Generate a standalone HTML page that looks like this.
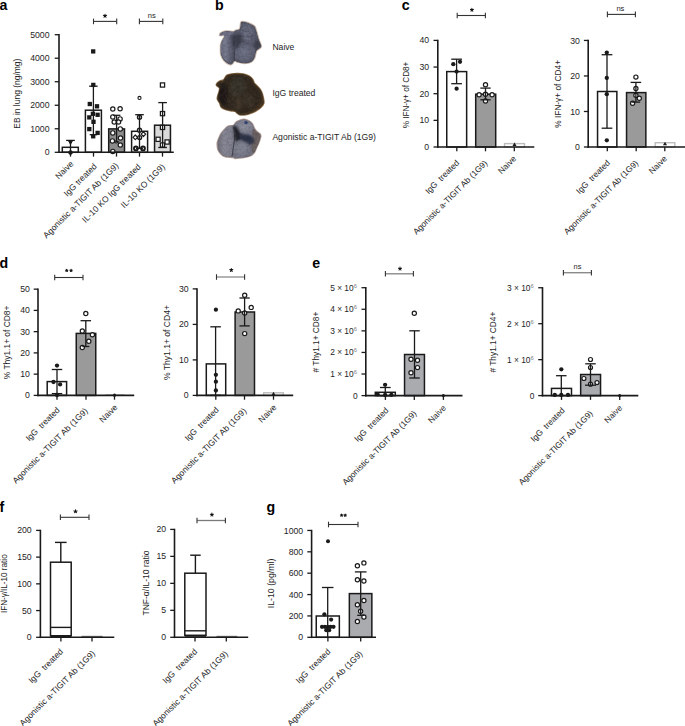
<!DOCTYPE html>
<html><head><meta charset="utf-8"><style>
html,body{margin:0;padding:0;background:#fff;}
svg{display:block;}
text{font-family:"Liberation Sans", sans-serif;}
</style></head><body>
<svg width="685" height="726" viewBox="0 0 685 726">
<rect width="685" height="726" fill="#fff"/>
<text x="-0.60" y="10.30" font-size="14.2" text-anchor="start" font-weight="bold" fill="#000" xml:space="preserve">a</text>
<text x="49.50" y="155.39" font-size="8.7" text-anchor="end" font-weight="normal" fill="#1e1e1e" xml:space="preserve">0</text>
<text x="49.50" y="131.87" font-size="8.7" text-anchor="end" font-weight="normal" fill="#1e1e1e" xml:space="preserve">1000</text>
<text x="49.50" y="108.35" font-size="8.7" text-anchor="end" font-weight="normal" fill="#1e1e1e" xml:space="preserve">2000</text>
<text x="49.50" y="84.83" font-size="8.7" text-anchor="end" font-weight="normal" fill="#1e1e1e" xml:space="preserve">3000</text>
<text x="49.50" y="61.31" font-size="8.7" text-anchor="end" font-weight="normal" fill="#1e1e1e" xml:space="preserve">4000</text>
<text x="49.50" y="37.79" font-size="8.7" text-anchor="end" font-weight="normal" fill="#1e1e1e" xml:space="preserve">5000</text>
<rect x="62.30" y="147.30" width="16.00" height="5.00" fill="#fff" stroke="#1a1a1a" stroke-width="1.5"/>
<rect x="85.40" y="110.20" width="16.00" height="42.10" fill="#fff" stroke="#1a1a1a" stroke-width="1.5"/>
<rect x="108.70" y="128.90" width="15.80" height="23.40" fill="#8c8c8c" stroke="#1a1a1a" stroke-width="1.5"/>
<rect x="131.60" y="131.30" width="16.00" height="21.00" fill="#fff" stroke="#1a1a1a" stroke-width="1.5"/>
<rect x="154.55" y="125.20" width="15.90" height="27.10" fill="#dadada" stroke="#1a1a1a" stroke-width="1.5"/>
<path d="M68.7,141.2 L72.3,141.2 L70.5,144.2 Z" fill="#1a1a1a" stroke="#1a1a1a" stroke-width="1.0" stroke-linejoin="round"/>
<path d="M70.50,149.40 L73.50,152.40 L70.50,155.40 L67.50,152.40 Z" fill="#1a1a1a"/>
<rect x="91.05" y="49.25" width="4.3" height="4.3" fill="#1a1a1a"/>
<rect x="91.15" y="82.75" width="4.3" height="4.3" fill="#1a1a1a"/>
<rect x="87.65" y="101.85" width="4.3" height="4.3" fill="#1a1a1a"/>
<rect x="94.85" y="104.15" width="4.3" height="4.3" fill="#1a1a1a"/>
<rect x="90.75" y="111.65" width="4.3" height="4.3" fill="#1a1a1a"/>
<rect x="95.45" y="112.65" width="4.3" height="4.3" fill="#1a1a1a"/>
<rect x="87.15" y="115.25" width="4.3" height="4.3" fill="#1a1a1a"/>
<rect x="91.35" y="119.65" width="4.3" height="4.3" fill="#1a1a1a"/>
<rect x="87.15" y="126.95" width="4.3" height="4.3" fill="#1a1a1a"/>
<rect x="95.45" y="130.75" width="4.3" height="4.3" fill="#1a1a1a"/>
<rect x="91.05" y="134.15" width="4.3" height="4.3" fill="#1a1a1a"/>
<circle cx="112.80" cy="109.00" r="2.15" fill="#fff" stroke="#1a1a1a" stroke-width="1.2"/>
<circle cx="120.10" cy="108.70" r="2.15" fill="#fff" stroke="#1a1a1a" stroke-width="1.2"/>
<circle cx="112.80" cy="116.90" r="2.15" fill="#fff" stroke="#1a1a1a" stroke-width="1.2"/>
<circle cx="120.10" cy="118.90" r="2.15" fill="#fff" stroke="#1a1a1a" stroke-width="1.2"/>
<circle cx="114.20" cy="122.00" r="2.15" fill="#fff" stroke="#1a1a1a" stroke-width="1.2"/>
<circle cx="118.50" cy="122.00" r="2.15" fill="#fff" stroke="#1a1a1a" stroke-width="1.2"/>
<circle cx="120.30" cy="128.90" r="2.15" fill="#fff" stroke="#1a1a1a" stroke-width="1.2"/>
<circle cx="112.80" cy="132.90" r="2.15" fill="#fff" stroke="#1a1a1a" stroke-width="1.2"/>
<circle cx="120.50" cy="138.00" r="2.15" fill="#fff" stroke="#1a1a1a" stroke-width="1.2"/>
<circle cx="112.40" cy="140.90" r="2.15" fill="#fff" stroke="#1a1a1a" stroke-width="1.2"/>
<circle cx="120.30" cy="145.00" r="2.15" fill="#fff" stroke="#1a1a1a" stroke-width="1.2"/>
<circle cx="112.80" cy="151.40" r="2.15" fill="#fff" stroke="#1a1a1a" stroke-width="1.2"/>
<circle cx="116.20" cy="141.90" r="1.3" fill="#fff" stroke="#1a1a1a" stroke-width="1.0"/>
<circle cx="139.50" cy="97.90" r="1.55" fill="#fff" stroke="#1a1a1a" stroke-width="1.1"/>
<circle cx="139.50" cy="117.30" r="2.0" fill="#fff" stroke="#1a1a1a" stroke-width="1.4"/>
<circle cx="139.50" cy="130.20" r="2.0" fill="#fff" stroke="#1a1a1a" stroke-width="1.4"/>
<circle cx="139.60" cy="137.60" r="2.0" fill="#fff" stroke="#1a1a1a" stroke-width="1.4"/>
<path d="M135.30,135.00 L137.60,137.30 L135.30,139.60 L133.00,137.30 Z" fill="#fff" stroke="#1a1a1a" stroke-width="1.2" stroke-linejoin="round"/>
<path d="M143.40,131.90 L145.70,134.20 L143.40,136.50 L141.10,134.20 Z" fill="#fff" stroke="#1a1a1a" stroke-width="1.2" stroke-linejoin="round"/>
<circle cx="135.90" cy="148.40" r="1.9" fill="#fff" stroke="#1a1a1a" stroke-width="1.9"/>
<circle cx="143.00" cy="148.40" r="1.9" fill="#fff" stroke="#1a1a1a" stroke-width="1.9"/>
<rect x="160.40" y="82.90" width="4.2" height="4.2" fill="#fff" stroke="#1a1a1a" stroke-width="1.25"/>
<rect x="160.40" y="111.50" width="4.2" height="4.2" fill="#fff" stroke="#1a1a1a" stroke-width="1.25"/>
<rect x="160.40" y="125.30" width="4.2" height="4.2" fill="#fff" stroke="#1a1a1a" stroke-width="1.25"/>
<rect x="156.00" y="137.20" width="4.2" height="4.2" fill="#fff" stroke="#1a1a1a" stroke-width="1.25"/>
<rect x="165.00" y="139.90" width="4.2" height="4.2" fill="#fff" stroke="#1a1a1a" stroke-width="1.25"/>
<rect x="160.40" y="142.90" width="4.2" height="4.2" fill="#fff" stroke="#1a1a1a" stroke-width="1.25"/>
<line x1="93.50" y1="21.40" x2="116.70" y2="21.40" stroke="#333" stroke-width="1.1"/>
<line x1="93.50" y1="18.60" x2="93.50" y2="24.20" stroke="#333" stroke-width="1.1"/>
<line x1="116.70" y1="18.60" x2="116.70" y2="24.20" stroke="#333" stroke-width="1.1"/>
<path d="M105.00,15.90 L105.00,14.20 M105.00,15.90 L106.62,15.37 M105.00,15.90 L106.00,17.28 M105.00,15.90 L104.00,17.28 M105.00,15.90 L103.38,15.37 " stroke="#111" stroke-width="1.05" stroke-linecap="round" fill="none"/>
<circle cx="105.00" cy="15.90" r="0.85" fill="#111"/>
<line x1="139.40" y1="21.40" x2="162.80" y2="21.40" stroke="#333" stroke-width="1.1"/>
<line x1="139.40" y1="18.60" x2="139.40" y2="24.20" stroke="#333" stroke-width="1.1"/>
<line x1="162.80" y1="18.60" x2="162.80" y2="24.20" stroke="#333" stroke-width="1.1"/>
<text x="151.80" y="17.90" font-size="7.6" text-anchor="middle" font-weight="normal" fill="#1e1e1e" xml:space="preserve">ns</text>
<text x="19.90" y="93.70" font-size="9.0" text-anchor="middle" font-weight="normal" fill="#1e1e1e" transform="rotate(-90 19.90 93.70)" textLength="70.0" lengthAdjust="spacingAndGlyphs" xml:space="preserve">EB in lung (ng/mg)</text>
<text x="74.00" y="164.30" font-size="8.5" text-anchor="end" font-weight="normal" fill="#1e1e1e" transform="rotate(-45 74.00 164.30)" xml:space="preserve">Naive</text>
<text x="97.40" y="166.80" font-size="8.5" text-anchor="end" font-weight="normal" fill="#1e1e1e" transform="rotate(-45 97.40 166.80)" xml:space="preserve">IgG treated</text>
<text x="119.00" y="166.30" font-size="8.5" text-anchor="end" font-weight="normal" fill="#1e1e1e" transform="rotate(-45 119.00 166.30)" xml:space="preserve">Agonistic a-TIGIT Ab (1G9)</text>
<text x="141.40" y="167.40" font-size="8.5" text-anchor="end" font-weight="normal" fill="#1e1e1e" transform="rotate(-45 141.40 167.40)" xml:space="preserve">IL-10 KO IgG treated</text>
<text x="165.40" y="167.40" font-size="8.5" text-anchor="end" font-weight="normal" fill="#1e1e1e" transform="rotate(-45 165.40 167.40)" xml:space="preserve">IL-10 KO (1G9)</text>
<text x="215.00" y="10.30" font-size="14.2" text-anchor="start" font-weight="bold" fill="#000" xml:space="preserve">b</text>
<text x="272.40" y="49.60" font-size="8.6" text-anchor="start" font-weight="normal" fill="#1e1e1e" xml:space="preserve">Naive</text>
<text x="272.40" y="96.10" font-size="8.6" text-anchor="start" font-weight="normal" fill="#1e1e1e" xml:space="preserve">IgG treated</text>
<text x="272.40" y="140.00" font-size="8.6" text-anchor="start" font-weight="normal" fill="#1e1e1e" xml:space="preserve">Agonistic a-TIGIT Ab (1G9)</text>
<defs>
<clipPath id="c1"><path d="M219.80,34.60 C219.95,34.17 219.67,33.48 220.70,32.90 C221.73,32.32 223.88,31.32 226.00,31.10 C228.12,30.88 231.80,31.73 233.40,31.60 C235.00,31.47 234.58,30.73 235.60,30.30 C236.62,29.87 238.72,29.72 239.50,29.00 C240.28,28.28 240.08,27.10 240.30,26.00 C240.52,24.90 240.35,23.15 240.80,22.40 C241.25,21.65 241.78,21.43 243.00,21.50 C244.22,21.57 246.22,22.07 248.10,22.80 C249.98,23.53 252.98,24.80 254.30,25.90 C255.62,27.00 255.50,28.08 256.00,29.40 C256.50,30.72 256.85,32.20 257.30,33.80 C257.75,35.40 258.12,37.25 258.70,39.00 C259.28,40.75 260.37,43.05 260.80,44.30 C261.23,45.55 261.38,45.88 261.30,46.50 C261.22,47.12 261.10,47.25 260.30,48.00 C259.50,48.75 257.42,49.42 256.50,51.00 C255.58,52.58 255.63,55.68 254.80,57.50 C253.97,59.32 253.27,60.92 251.50,61.90 C249.73,62.88 246.63,63.40 244.20,63.40 C241.77,63.40 238.55,62.27 236.90,61.90 C235.25,61.53 235.03,60.90 234.30,61.20 C233.57,61.50 233.28,63.15 232.50,63.70 C231.72,64.25 231.05,65.05 229.60,64.50 C228.15,63.95 225.27,62.05 223.80,60.40 C222.33,58.75 221.35,56.78 220.80,54.60 C220.25,52.42 220.52,49.02 220.50,47.30 C220.48,45.58 220.45,45.38 220.70,44.30 C220.95,43.22 221.42,42.05 222.00,40.80 C222.58,39.55 223.90,37.72 224.20,36.80 C224.50,35.88 224.53,35.52 223.80,35.30 C223.07,35.08 220.47,35.62 219.80,35.50 C219.13,35.38 219.65,35.03 219.80,34.60 Z"/></clipPath>
<clipPath id="c2"><path d="M216.30,84.90 C216.23,84.25 216.78,83.35 217.40,82.70 C218.02,82.05 218.98,81.47 220.00,81.00 C221.02,80.53 222.55,80.63 223.50,79.90 C224.45,79.17 225.03,77.42 225.70,76.60 C226.37,75.78 226.55,75.45 227.50,75.00 C228.45,74.55 229.65,74.13 231.40,73.90 C233.15,73.67 235.82,73.55 238.00,73.60 C240.18,73.65 242.55,73.72 244.50,74.20 C246.45,74.68 248.30,75.58 249.70,76.50 C251.10,77.42 252.15,78.63 252.90,79.70 C253.65,80.77 253.45,81.82 254.20,82.90 C254.95,83.98 256.32,85.00 257.40,86.20 C258.48,87.40 259.83,88.70 260.70,90.10 C261.57,91.50 262.07,92.77 262.60,94.60 C263.13,96.43 263.73,99.58 263.90,101.10 C264.07,102.62 264.03,102.73 263.60,103.70 C263.17,104.67 262.33,105.83 261.30,106.90 C260.27,107.97 258.92,109.13 257.40,110.10 C255.88,111.07 254.13,111.93 252.20,112.70 C250.27,113.47 247.80,114.33 245.80,114.70 C243.80,115.07 241.58,115.12 240.20,114.90 C238.82,114.68 238.38,113.98 237.50,113.40 C236.62,112.82 236.07,111.83 234.90,111.40 C233.73,110.97 232.10,111.12 230.50,110.80 C228.90,110.48 226.83,110.08 225.30,109.50 C223.77,108.92 222.25,108.40 221.30,107.30 C220.35,106.20 220.25,104.22 219.60,102.90 C218.95,101.58 217.73,100.50 217.40,99.40 C217.07,98.30 217.38,97.40 217.60,96.30 C217.82,95.20 218.37,94.12 218.70,92.80 C219.03,91.48 219.75,89.43 219.60,88.40 C219.45,87.37 218.35,87.18 217.80,86.60 C217.25,86.02 216.37,85.55 216.30,84.90 Z"/></clipPath>
<clipPath id="c3"><path d="M228.10,126.20 C229.48,125.62 232.08,125.95 233.40,125.30 C234.72,124.65 234.98,123.10 236.00,122.30 C237.02,121.50 238.43,120.98 239.50,120.50 C240.57,120.02 241.40,119.58 242.40,119.40 C243.40,119.22 244.32,119.12 245.50,119.40 C246.68,119.68 248.33,120.37 249.50,121.10 C250.67,121.83 251.70,122.63 252.50,123.80 C253.30,124.97 253.57,126.80 254.30,128.10 C255.03,129.40 255.95,130.65 256.90,131.60 C257.85,132.55 259.35,133.07 260.00,133.80 C260.65,134.53 260.80,135.05 260.80,136.00 C260.80,136.95 260.35,138.33 260.00,139.50 C259.65,140.67 259.28,141.58 258.70,143.00 C258.12,144.42 257.22,146.42 256.50,148.00 C255.78,149.58 255.23,151.27 254.40,152.50 C253.57,153.73 253.20,154.55 251.50,155.40 C249.80,156.25 246.88,157.10 244.20,157.60 C241.52,158.10 237.23,158.40 235.40,158.40 C233.57,158.40 235.02,157.92 233.20,157.60 C231.38,157.28 226.57,157.10 224.50,156.50 C222.43,155.90 221.90,155.15 220.80,154.00 C219.70,152.85 218.50,151.30 217.90,149.60 C217.30,147.90 217.25,145.15 217.20,143.80 C217.15,142.45 217.23,142.68 217.60,141.50 C217.97,140.32 218.73,138.15 219.40,136.70 C220.07,135.25 220.65,134.12 221.60,132.80 C222.55,131.48 224.02,129.90 225.10,128.80 C226.18,127.70 226.72,126.78 228.10,126.20 Z"/></clipPath>
<filter id="tex" x="0" y="0" width="100%" height="100%"><feTurbulence type="fractalNoise" baseFrequency="0.45" numOctaves="2" seed="7"/><feColorMatrix type="matrix" values="0 0 0 0 0  0 0 0 0 0  0 0 0 0 0  0 0 0 -1.3 0.8"/></filter>
<filter id="texl" x="0" y="0" width="100%" height="100%"><feTurbulence type="fractalNoise" baseFrequency="0.3" numOctaves="2" seed="11"/><feColorMatrix type="matrix" values="0 0 0 0 1  0 0 0 0 1  0 0 0 0 1  0 0 0 -1.5 0.85"/></filter>
<filter id="bl" x="-30%" y="-30%" width="160%" height="160%"><feGaussianBlur stdDeviation="0.9"/></filter>
<filter id="bl2" x="-30%" y="-30%" width="160%" height="160%"><feGaussianBlur stdDeviation="0.55"/></filter>
<filter id="blo" x="-10%" y="-10%" width="120%" height="120%"><feGaussianBlur stdDeviation="0.6"/></filter>
<linearGradient id="g1l" x1="0" y1="0" x2="1" y2="0"><stop offset="0" stop-color="#686d8a"/><stop offset="0.45" stop-color="#737896"/><stop offset="1" stop-color="#484b63"/></linearGradient>
<radialGradient id="g1br" cx="0.45" cy="0.45" r="0.6"><stop offset="0" stop-color="#6c7090"/><stop offset="0.8" stop-color="#5c607c"/><stop offset="1" stop-color="#4a4d66"/></radialGradient>
<radialGradient id="g1tr" cx="0.4" cy="0.5" r="0.65"><stop offset="0" stop-color="#6a6f8c"/><stop offset="1" stop-color="#51556f"/></radialGradient>
<radialGradient id="g2" cx="0.45" cy="0.5" r="0.6"><stop offset="0" stop-color="#362d24"/><stop offset="0.75" stop-color="#30271e"/><stop offset="1" stop-color="#4e3a22"/></radialGradient>
<linearGradient id="g3l" x1="0" y1="0" x2="1" y2="0"><stop offset="0" stop-color="#6e6a7c"/><stop offset="0.35" stop-color="#85849a"/><stop offset="1" stop-color="#7a7a92"/></linearGradient>
<radialGradient id="g3tr" cx="0.5" cy="0.45" r="0.6"><stop offset="0" stop-color="#8d8ea6"/><stop offset="1" stop-color="#72748e"/></radialGradient>
<radialGradient id="g3br" cx="0.45" cy="0.5" r="0.6"><stop offset="0" stop-color="#85869e"/><stop offset="1" stop-color="#6c6d86"/></radialGradient>
<filter id="desat" x="0" y="0" width="100%" height="100%"><feColorMatrix type="saturate" values="0.62"/></filter>
</defs>
<path d="M219.80,34.60 C219.95,34.17 219.67,33.48 220.70,32.90 C221.73,32.32 223.88,31.32 226.00,31.10 C228.12,30.88 231.80,31.73 233.40,31.60 C235.00,31.47 234.58,30.73 235.60,30.30 C236.62,29.87 238.72,29.72 239.50,29.00 C240.28,28.28 240.08,27.10 240.30,26.00 C240.52,24.90 240.35,23.15 240.80,22.40 C241.25,21.65 241.78,21.43 243.00,21.50 C244.22,21.57 246.22,22.07 248.10,22.80 C249.98,23.53 252.98,24.80 254.30,25.90 C255.62,27.00 255.50,28.08 256.00,29.40 C256.50,30.72 256.85,32.20 257.30,33.80 C257.75,35.40 258.12,37.25 258.70,39.00 C259.28,40.75 260.37,43.05 260.80,44.30 C261.23,45.55 261.38,45.88 261.30,46.50 C261.22,47.12 261.10,47.25 260.30,48.00 C259.50,48.75 257.42,49.42 256.50,51.00 C255.58,52.58 255.63,55.68 254.80,57.50 C253.97,59.32 253.27,60.92 251.50,61.90 C249.73,62.88 246.63,63.40 244.20,63.40 C241.77,63.40 238.55,62.27 236.90,61.90 C235.25,61.53 235.03,60.90 234.30,61.20 C233.57,61.50 233.28,63.15 232.50,63.70 C231.72,64.25 231.05,65.05 229.60,64.50 C228.15,63.95 225.27,62.05 223.80,60.40 C222.33,58.75 221.35,56.78 220.80,54.60 C220.25,52.42 220.52,49.02 220.50,47.30 C220.48,45.58 220.45,45.38 220.70,44.30 C220.95,43.22 221.42,42.05 222.00,40.80 C222.58,39.55 223.90,37.72 224.20,36.80 C224.50,35.88 224.53,35.52 223.80,35.30 C223.07,35.08 220.47,35.62 219.80,35.50 C219.13,35.38 219.65,35.03 219.80,34.60 Z" fill="none" stroke="#b39a88" stroke-width="1.5" opacity="0.75" filter="url(#blo)"/>
<g filter="url(#desat)"><g clip-path="url(#c1)">
<path d="M219.80,34.60 C219.95,34.17 219.67,33.48 220.70,32.90 C221.73,32.32 223.88,31.32 226.00,31.10 C228.12,30.88 231.80,31.73 233.40,31.60 C235.00,31.47 234.58,30.73 235.60,30.30 C236.62,29.87 238.72,29.72 239.50,29.00 C240.28,28.28 240.08,27.10 240.30,26.00 C240.52,24.90 240.35,23.15 240.80,22.40 C241.25,21.65 241.78,21.43 243.00,21.50 C244.22,21.57 246.22,22.07 248.10,22.80 C249.98,23.53 252.98,24.80 254.30,25.90 C255.62,27.00 255.50,28.08 256.00,29.40 C256.50,30.72 256.85,32.20 257.30,33.80 C257.75,35.40 258.12,37.25 258.70,39.00 C259.28,40.75 260.37,43.05 260.80,44.30 C261.23,45.55 261.38,45.88 261.30,46.50 C261.22,47.12 261.10,47.25 260.30,48.00 C259.50,48.75 257.42,49.42 256.50,51.00 C255.58,52.58 255.63,55.68 254.80,57.50 C253.97,59.32 253.27,60.92 251.50,61.90 C249.73,62.88 246.63,63.40 244.20,63.40 C241.77,63.40 238.55,62.27 236.90,61.90 C235.25,61.53 235.03,60.90 234.30,61.20 C233.57,61.50 233.28,63.15 232.50,63.70 C231.72,64.25 231.05,65.05 229.60,64.50 C228.15,63.95 225.27,62.05 223.80,60.40 C222.33,58.75 221.35,56.78 220.80,54.60 C220.25,52.42 220.52,49.02 220.50,47.30 C220.48,45.58 220.45,45.38 220.70,44.30 C220.95,43.22 221.42,42.05 222.00,40.80 C222.58,39.55 223.90,37.72 224.20,36.80 C224.50,35.88 224.53,35.52 223.80,35.30 C223.07,35.08 220.47,35.62 219.80,35.50 C219.13,35.38 219.65,35.03 219.80,34.60 Z" fill="#53576f"/>
<g filter="url(#bl2)">
<path d="M240.50,32.60 C240.27,30.05 240.43,26.18 241.30,24.60 C242.17,23.02 244.00,22.87 245.70,23.10 C247.40,23.33 249.93,24.42 251.50,26.00 C253.07,27.58 254.25,30.28 255.10,32.60 C255.95,34.92 256.72,38.08 256.60,39.90 C256.48,41.72 255.87,43.02 254.40,43.50 C252.93,43.98 249.75,43.40 247.80,42.80 C245.85,42.20 243.92,41.60 242.70,39.90 C241.48,38.20 240.73,35.15 240.50,32.60 Z" fill="url(#g1tr)"/>
<path d="M236.20,47.20 C237.17,45.50 238.57,44.92 240.50,44.30 C242.43,43.68 245.48,43.27 247.80,43.50 C250.12,43.73 253.05,44.48 254.40,45.70 C255.75,46.92 256.02,48.85 255.90,50.80 C255.78,52.75 254.92,55.57 253.70,57.40 C252.48,59.23 250.67,60.95 248.60,61.80 C246.53,62.65 243.37,62.75 241.30,62.50 C239.23,62.25 237.30,61.63 236.20,60.30 C235.10,58.97 234.70,56.68 234.70,54.50 C234.70,52.32 235.23,48.90 236.20,47.20 Z" fill="url(#g1br)"/>
<path d="M219.50,36.00 C219.62,35.40 220.12,39.87 221.20,39.90 C222.28,39.93 224.42,36.75 226.00,36.20 C227.58,35.65 229.62,35.62 230.70,36.60 C231.78,37.58 232.08,39.73 232.50,42.10 C232.92,44.47 232.95,48.00 233.20,50.80 C233.45,53.60 234.23,56.95 234.00,58.90 C233.77,60.85 232.90,62.02 231.80,62.50 C230.70,62.98 228.87,62.65 227.40,61.80 C225.93,60.95 224.15,59.23 223.00,57.40 C221.85,55.57 220.92,53.12 220.50,50.80 C220.08,48.48 220.67,45.97 220.50,43.50 C220.33,41.03 219.38,36.60 219.50,36.00 Z" fill="url(#g1l)"/>
<path d="M219.80,34.60 C220.38,33.97 222.30,32.50 224.00,32.00 C225.70,31.50 228.33,31.57 230.00,31.60 C231.67,31.63 234.00,31.55 234.00,32.20 C234.00,32.85 231.67,34.90 230.00,35.50 C228.33,36.10 225.58,35.75 224.00,35.80 C222.42,35.85 221.20,36.00 220.50,35.80 C219.80,35.60 219.22,35.23 219.80,34.60 Z" fill="#6d7190"/>
</g>
<g filter="url(#bl)">
<path d="M231.80,37.00 C232.58,35.78 235.32,34.47 236.90,34.10 C238.48,33.73 240.33,33.83 241.30,34.80 C242.27,35.77 242.95,38.32 242.70,39.90 C242.45,41.48 240.88,42.83 239.80,44.30 C238.72,45.77 237.30,48.47 236.20,48.70 C235.10,48.93 233.87,46.92 233.20,45.70 C232.53,44.48 232.43,42.85 232.20,41.40 C231.97,39.95 231.02,38.22 231.80,37.00 Z" fill="#3b3d52"/>
<path d="M255.90,39.90 C256.68,39.30 258.72,41.13 259.50,42.10 C260.28,43.07 260.83,44.60 260.60,45.70 C260.37,46.80 258.88,48.08 258.10,48.70 C257.32,49.32 256.45,49.90 255.90,49.40 C255.35,48.90 254.80,47.28 254.80,45.70 C254.80,44.12 255.12,40.50 255.90,39.90 Z" fill="#3a3c50"/>
</g>
<path d="M233.5,42 Q235,52 234.6,61.5" stroke="#3c3e54" stroke-width="0.9" fill="none" opacity="0.8"/>
<path d="M236,47.5 Q245,42.5 255,46" stroke="#4a4d66" stroke-width="0.7" fill="none" opacity="0.7"/>
<path d="M243,27 L247,36 M248,25 L252,33 M245,38 L251,40" stroke="#8a8fab" stroke-width="0.6" fill="none" opacity="0.5"/>
<path d="M242,30 Q246,33 249,31 M246,36 Q250,38 254,35 M238,38 L244,36" stroke="#3e4056" stroke-width="0.8" fill="none" opacity="0.7"/>
<rect x="215" y="18" width="50" height="50" filter="url(#tex)" opacity="0.22"/>
<rect x="215" y="18" width="50" height="50" filter="url(#texl)" opacity="0.10"/>
</g></g>
<path d="M216.30,84.90 C216.23,84.25 216.78,83.35 217.40,82.70 C218.02,82.05 218.98,81.47 220.00,81.00 C221.02,80.53 222.55,80.63 223.50,79.90 C224.45,79.17 225.03,77.42 225.70,76.60 C226.37,75.78 226.55,75.45 227.50,75.00 C228.45,74.55 229.65,74.13 231.40,73.90 C233.15,73.67 235.82,73.55 238.00,73.60 C240.18,73.65 242.55,73.72 244.50,74.20 C246.45,74.68 248.30,75.58 249.70,76.50 C251.10,77.42 252.15,78.63 252.90,79.70 C253.65,80.77 253.45,81.82 254.20,82.90 C254.95,83.98 256.32,85.00 257.40,86.20 C258.48,87.40 259.83,88.70 260.70,90.10 C261.57,91.50 262.07,92.77 262.60,94.60 C263.13,96.43 263.73,99.58 263.90,101.10 C264.07,102.62 264.03,102.73 263.60,103.70 C263.17,104.67 262.33,105.83 261.30,106.90 C260.27,107.97 258.92,109.13 257.40,110.10 C255.88,111.07 254.13,111.93 252.20,112.70 C250.27,113.47 247.80,114.33 245.80,114.70 C243.80,115.07 241.58,115.12 240.20,114.90 C238.82,114.68 238.38,113.98 237.50,113.40 C236.62,112.82 236.07,111.83 234.90,111.40 C233.73,110.97 232.10,111.12 230.50,110.80 C228.90,110.48 226.83,110.08 225.30,109.50 C223.77,108.92 222.25,108.40 221.30,107.30 C220.35,106.20 220.25,104.22 219.60,102.90 C218.95,101.58 217.73,100.50 217.40,99.40 C217.07,98.30 217.38,97.40 217.60,96.30 C217.82,95.20 218.37,94.12 218.70,92.80 C219.03,91.48 219.75,89.43 219.60,88.40 C219.45,87.37 218.35,87.18 217.80,86.60 C217.25,86.02 216.37,85.55 216.30,84.90 Z" fill="none" stroke="#7e5a32" stroke-width="1.5" opacity="0.85" filter="url(#blo)"/>
<path d="M259,92 Q264,99 262.5,106" stroke="#a06a28" stroke-width="1.6" fill="none" opacity="0.7" filter="url(#blo)"/>
<g clip-path="url(#c2)">
<path d="M216.30,84.90 C216.23,84.25 216.78,83.35 217.40,82.70 C218.02,82.05 218.98,81.47 220.00,81.00 C221.02,80.53 222.55,80.63 223.50,79.90 C224.45,79.17 225.03,77.42 225.70,76.60 C226.37,75.78 226.55,75.45 227.50,75.00 C228.45,74.55 229.65,74.13 231.40,73.90 C233.15,73.67 235.82,73.55 238.00,73.60 C240.18,73.65 242.55,73.72 244.50,74.20 C246.45,74.68 248.30,75.58 249.70,76.50 C251.10,77.42 252.15,78.63 252.90,79.70 C253.65,80.77 253.45,81.82 254.20,82.90 C254.95,83.98 256.32,85.00 257.40,86.20 C258.48,87.40 259.83,88.70 260.70,90.10 C261.57,91.50 262.07,92.77 262.60,94.60 C263.13,96.43 263.73,99.58 263.90,101.10 C264.07,102.62 264.03,102.73 263.60,103.70 C263.17,104.67 262.33,105.83 261.30,106.90 C260.27,107.97 258.92,109.13 257.40,110.10 C255.88,111.07 254.13,111.93 252.20,112.70 C250.27,113.47 247.80,114.33 245.80,114.70 C243.80,115.07 241.58,115.12 240.20,114.90 C238.82,114.68 238.38,113.98 237.50,113.40 C236.62,112.82 236.07,111.83 234.90,111.40 C233.73,110.97 232.10,111.12 230.50,110.80 C228.90,110.48 226.83,110.08 225.30,109.50 C223.77,108.92 222.25,108.40 221.30,107.30 C220.35,106.20 220.25,104.22 219.60,102.90 C218.95,101.58 217.73,100.50 217.40,99.40 C217.07,98.30 217.38,97.40 217.60,96.30 C217.82,95.20 218.37,94.12 218.70,92.80 C219.03,91.48 219.75,89.43 219.60,88.40 C219.45,87.37 218.35,87.18 217.80,86.60 C217.25,86.02 216.37,85.55 216.30,84.90 Z" fill="url(#g2)"/>
<g filter="url(#bl)">
<path d="M216.30,84.90 C216.23,84.25 216.78,83.35 217.40,82.70 C218.02,82.05 218.98,81.47 220.00,81.00 C221.02,80.53 222.55,80.63 223.50,79.90 C224.45,79.17 225.03,77.42 225.70,76.60 C226.37,75.78 226.55,75.45 227.50,75.00 C228.45,74.55 229.65,74.13 231.40,73.90 C233.15,73.67 235.82,73.55 238.00,73.60 C240.18,73.65 242.55,73.72 244.50,74.20 C246.45,74.68 248.30,75.58 249.70,76.50 C251.10,77.42 252.15,78.63 252.90,79.70 C253.65,80.77 253.45,81.82 254.20,82.90 C254.95,83.98 256.32,85.00 257.40,86.20 C258.48,87.40 259.83,88.70 260.70,90.10 C261.57,91.50 262.07,92.77 262.60,94.60 C263.13,96.43 263.73,99.58 263.90,101.10 C264.07,102.62 264.03,102.73 263.60,103.70 C263.17,104.67 262.33,105.83 261.30,106.90 C260.27,107.97 258.92,109.13 257.40,110.10 C255.88,111.07 254.13,111.93 252.20,112.70 C250.27,113.47 247.80,114.33 245.80,114.70 C243.80,115.07 241.58,115.12 240.20,114.90 C238.82,114.68 238.38,113.98 237.50,113.40 C236.62,112.82 236.07,111.83 234.90,111.40 C233.73,110.97 232.10,111.12 230.50,110.80 C228.90,110.48 226.83,110.08 225.30,109.50 C223.77,108.92 222.25,108.40 221.30,107.30 C220.35,106.20 220.25,104.22 219.60,102.90 C218.95,101.58 217.73,100.50 217.40,99.40 C217.07,98.30 217.38,97.40 217.60,96.30 C217.82,95.20 218.37,94.12 218.70,92.80 C219.03,91.48 219.75,89.43 219.60,88.40 C219.45,87.37 218.35,87.18 217.80,86.60 C217.25,86.02 216.37,85.55 216.30,84.90 Z" fill="none" stroke="#4b3a24" stroke-width="2.2" opacity="0.9"/>
<path d="M231.00,80.00 C232.17,77.50 235.67,76.67 238.00,77.00 C240.33,77.33 244.00,79.50 245.00,82.00 C246.00,84.50 245.17,89.50 244.00,92.00 C242.83,94.50 240.17,97.00 238.00,97.00 C235.83,97.00 232.17,94.83 231.00,92.00 C229.83,89.17 229.83,82.50 231.00,80.00 Z" fill="#3a342c" opacity="0.8"/>
<path d="M246.00,94.00 C247.83,93.17 252.67,95.00 254.00,97.00 C255.33,99.00 255.17,104.17 254.00,106.00 C252.83,107.83 248.83,108.67 247.00,108.00 C245.17,107.33 243.17,104.33 243.00,102.00 C242.83,99.67 244.17,94.83 246.00,94.00 Z" fill="#3a3328" opacity="0.7"/>
<path d="M219.00,88.00 C220.17,85.50 224.50,84.33 226.00,86.00 C227.50,87.67 228.33,94.67 228.00,98.00 C227.67,101.33 225.50,105.50 224.00,106.00 C222.50,106.50 219.83,104.00 219.00,101.00 C218.17,98.00 217.83,90.50 219.00,88.00 Z" fill="#1f1b16" opacity="0.9"/>
<path d="M236.00,100.00 C236.67,98.17 240.00,97.67 241.00,99.00 C242.00,100.33 242.67,106.17 242.00,108.00 C241.33,109.83 238.00,111.33 237.00,110.00 C236.00,108.67 235.33,101.83 236.00,100.00 Z" fill="#4a3d2c" opacity="0.6"/>
</g>
<path d="M230,83 L236,90 M243,79 L247,88 M235,95 L240,104 M249,98 L251,107 M226,95 L229,103 M238,84 L244,84 M232,100 L235,92" stroke="#5e4c36" stroke-width="0.8" fill="none" opacity="0.35"/>
<rect x="213" y="70" width="55" height="50" filter="url(#tex)" opacity="0.25"/>
<rect x="213" y="70" width="55" height="50" filter="url(#texl)" opacity="0.07"/>
</g>
<path d="M228.10,126.20 C229.48,125.62 232.08,125.95 233.40,125.30 C234.72,124.65 234.98,123.10 236.00,122.30 C237.02,121.50 238.43,120.98 239.50,120.50 C240.57,120.02 241.40,119.58 242.40,119.40 C243.40,119.22 244.32,119.12 245.50,119.40 C246.68,119.68 248.33,120.37 249.50,121.10 C250.67,121.83 251.70,122.63 252.50,123.80 C253.30,124.97 253.57,126.80 254.30,128.10 C255.03,129.40 255.95,130.65 256.90,131.60 C257.85,132.55 259.35,133.07 260.00,133.80 C260.65,134.53 260.80,135.05 260.80,136.00 C260.80,136.95 260.35,138.33 260.00,139.50 C259.65,140.67 259.28,141.58 258.70,143.00 C258.12,144.42 257.22,146.42 256.50,148.00 C255.78,149.58 255.23,151.27 254.40,152.50 C253.57,153.73 253.20,154.55 251.50,155.40 C249.80,156.25 246.88,157.10 244.20,157.60 C241.52,158.10 237.23,158.40 235.40,158.40 C233.57,158.40 235.02,157.92 233.20,157.60 C231.38,157.28 226.57,157.10 224.50,156.50 C222.43,155.90 221.90,155.15 220.80,154.00 C219.70,152.85 218.50,151.30 217.90,149.60 C217.30,147.90 217.25,145.15 217.20,143.80 C217.15,142.45 217.23,142.68 217.60,141.50 C217.97,140.32 218.73,138.15 219.40,136.70 C220.07,135.25 220.65,134.12 221.60,132.80 C222.55,131.48 224.02,129.90 225.10,128.80 C226.18,127.70 226.72,126.78 228.10,126.20 Z" fill="none" stroke="#a08478" stroke-width="1.5" opacity="0.8" filter="url(#blo)"/>
<g filter="url(#desat)"><g clip-path="url(#c3)">
<path d="M228.10,126.20 C229.48,125.62 232.08,125.95 233.40,125.30 C234.72,124.65 234.98,123.10 236.00,122.30 C237.02,121.50 238.43,120.98 239.50,120.50 C240.57,120.02 241.40,119.58 242.40,119.40 C243.40,119.22 244.32,119.12 245.50,119.40 C246.68,119.68 248.33,120.37 249.50,121.10 C250.67,121.83 251.70,122.63 252.50,123.80 C253.30,124.97 253.57,126.80 254.30,128.10 C255.03,129.40 255.95,130.65 256.90,131.60 C257.85,132.55 259.35,133.07 260.00,133.80 C260.65,134.53 260.80,135.05 260.80,136.00 C260.80,136.95 260.35,138.33 260.00,139.50 C259.65,140.67 259.28,141.58 258.70,143.00 C258.12,144.42 257.22,146.42 256.50,148.00 C255.78,149.58 255.23,151.27 254.40,152.50 C253.57,153.73 253.20,154.55 251.50,155.40 C249.80,156.25 246.88,157.10 244.20,157.60 C241.52,158.10 237.23,158.40 235.40,158.40 C233.57,158.40 235.02,157.92 233.20,157.60 C231.38,157.28 226.57,157.10 224.50,156.50 C222.43,155.90 221.90,155.15 220.80,154.00 C219.70,152.85 218.50,151.30 217.90,149.60 C217.30,147.90 217.25,145.15 217.20,143.80 C217.15,142.45 217.23,142.68 217.60,141.50 C217.97,140.32 218.73,138.15 219.40,136.70 C220.07,135.25 220.65,134.12 221.60,132.80 C222.55,131.48 224.02,129.90 225.10,128.80 C226.18,127.70 226.72,126.78 228.10,126.20 Z" fill="#706f86"/>
<g filter="url(#bl2)">
<path d="M228.70,126.00 C230.15,125.77 232.48,125.50 233.40,126.70 C234.32,127.90 234.20,130.28 234.20,133.20 C234.20,136.12 233.72,140.90 233.40,144.20 C233.08,147.50 232.90,150.93 232.30,153.00 C231.70,155.07 231.43,156.37 229.80,156.60 C228.17,156.83 224.33,155.87 222.50,154.40 C220.67,152.93 219.53,150.12 218.80,147.80 C218.07,145.48 217.73,142.93 218.10,140.50 C218.47,138.07 219.90,135.27 221.00,133.20 C222.10,131.13 223.42,129.30 224.70,128.10 C225.98,126.90 227.25,126.23 228.70,126.00 Z" fill="url(#g3l)"/>
<path d="M234.90,123.00 C235.87,121.42 240.02,120.47 242.20,120.10 C244.38,119.73 246.30,120.07 248.00,120.80 C249.70,121.53 251.42,122.78 252.40,124.50 C253.38,126.22 254.13,129.40 253.90,131.10 C253.67,132.80 252.47,134.22 251.00,134.70 C249.53,135.18 246.93,134.37 245.10,134.00 C243.27,133.63 241.45,133.23 240.00,132.50 C238.55,131.77 237.25,131.18 236.40,129.60 C235.55,128.02 233.93,124.58 234.90,123.00 Z" fill="url(#g3tr)"/>
<path d="M234.90,140.50 C236.17,139.05 238.75,138.73 240.70,139.10 C242.65,139.47 244.88,141.25 246.60,142.70 C248.32,144.15 250.40,145.97 251.00,147.80 C251.60,149.63 251.18,152.12 250.20,153.70 C249.22,155.28 247.28,156.57 245.10,157.30 C242.92,158.03 239.05,158.33 237.10,158.10 C235.15,157.87 234.07,157.62 233.40,155.90 C232.73,154.18 232.85,150.37 233.10,147.80 C233.35,145.23 233.63,141.95 234.90,140.50 Z" fill="url(#g3br)"/>
<path d="M252.40,129.60 C253.07,128.18 255.17,130.53 256.50,131.50 C257.83,132.47 259.90,133.82 260.40,135.40 C260.90,136.98 259.85,139.28 259.50,141.00 C259.15,142.72 259.23,143.70 258.30,145.70 C257.37,147.70 255.03,152.62 253.90,153.00 C252.77,153.38 251.73,150.17 251.50,148.00 C251.27,145.83 252.35,143.07 252.50,140.00 C252.65,136.93 251.73,131.02 252.40,129.60 Z" fill="#6e5f62"/>
</g>
<g filter="url(#bl)">
<path d="M237.10,133.00 C238.20,132.12 241.38,133.73 243.70,134.20 C246.02,134.67 249.25,134.75 251.00,135.80 C252.75,136.85 254.20,139.03 254.20,140.50 C254.20,141.97 252.52,144.42 251.00,144.60 C249.48,144.78 246.82,142.33 245.10,141.60 C243.38,140.87 242.03,140.55 240.70,140.20 C239.37,139.85 237.70,140.70 237.10,139.50 C236.50,138.30 236.00,133.88 237.10,133.00 Z" fill="#283050"/>
<path d="M233.40,125.80 C233.87,124.83 235.73,126.00 236.80,127.20 C237.87,128.40 239.43,130.95 239.80,133.00 C240.17,135.05 239.72,138.25 239.00,139.50 C238.28,140.75 236.33,141.58 235.50,140.50 C234.67,139.42 234.35,135.45 234.00,133.00 C233.65,130.55 232.93,126.77 233.40,125.80 Z" fill="#22222f"/>
</g>
<path d="M233.8,126.5 Q235.2,133 234.4,140.5 Q233.2,148 232,156.5" stroke="#2f2f42" stroke-width="0.9" fill="none" opacity="0.85"/>
<circle cx="245.9" cy="122.6" r="1.7" fill="#1f3f88" filter="url(#bl2)"/>
<path d="M222,150 L228,136 M226,152 L231,140" stroke="#9a98ad" stroke-width="0.6" fill="none" opacity="0.5"/>
<rect x="215" y="117" width="50" height="45" filter="url(#tex)" opacity="0.2"/>
<rect x="215" y="117" width="50" height="45" filter="url(#texl)" opacity="0.10"/>
</g></g>
<text x="401.70" y="10.40" font-size="14.2" text-anchor="start" font-weight="bold" fill="#000" xml:space="preserve">c</text>
<text x="429.10" y="150.09" font-size="8.7" text-anchor="end" font-weight="normal" fill="#1e1e1e" xml:space="preserve">0</text>
<text x="429.10" y="123.44" font-size="8.7" text-anchor="end" font-weight="normal" fill="#1e1e1e" xml:space="preserve">10</text>
<text x="429.10" y="96.79" font-size="8.7" text-anchor="end" font-weight="normal" fill="#1e1e1e" xml:space="preserve">20</text>
<text x="429.10" y="70.14" font-size="8.7" text-anchor="end" font-weight="normal" fill="#1e1e1e" xml:space="preserve">30</text>
<text x="429.10" y="43.49" font-size="8.7" text-anchor="end" font-weight="normal" fill="#1e1e1e" xml:space="preserve">40</text>
<rect x="446.75" y="71.60" width="19.90" height="75.40" fill="#fff" stroke="#1a1a1a" stroke-width="1.5"/>
<rect x="475.70" y="94.20" width="20.00" height="52.80" fill="#9a9a9a" stroke="#1a1a1a" stroke-width="1.5"/>
<rect x="504.55" y="143.60" width="19.90" height="3.40" fill="#fff" stroke="#bdbdbd" stroke-width="1.4"/>
<circle cx="453.30" cy="64.20" r="2.15" fill="#1a1a1a"/>
<circle cx="460.00" cy="61.80" r="2.15" fill="#1a1a1a"/>
<circle cx="456.60" cy="71.60" r="2.15" fill="#1a1a1a"/>
<circle cx="456.60" cy="88.70" r="2.15" fill="#1a1a1a"/>
<circle cx="485.50" cy="84.80" r="2.1" fill="#fff" stroke="#1a1a1a" stroke-width="1.2"/>
<circle cx="479.10" cy="94.80" r="2.1" fill="#fff" stroke="#1a1a1a" stroke-width="1.2"/>
<circle cx="485.50" cy="94.20" r="2.1" fill="#fff" stroke="#1a1a1a" stroke-width="1.2"/>
<circle cx="492.10" cy="94.80" r="2.1" fill="#fff" stroke="#1a1a1a" stroke-width="1.2"/>
<circle cx="485.50" cy="101.00" r="2.1" fill="#fff" stroke="#1a1a1a" stroke-width="1.2"/>
<path d="M512.50,146.04 L516.50,146.04 L514.50,142.56 Z" fill="#1a1a1a"/>
<line x1="457.20" y1="15.50" x2="485.40" y2="15.50" stroke="#333" stroke-width="1.1"/>
<line x1="457.20" y1="12.70" x2="457.20" y2="18.30" stroke="#333" stroke-width="1.1"/>
<line x1="485.40" y1="12.70" x2="485.40" y2="18.30" stroke="#333" stroke-width="1.1"/>
<path d="M471.90,9.90 L471.90,8.30 M471.90,9.90 L473.42,9.41 M471.90,9.90 L472.84,11.19 M471.90,9.90 L470.96,11.19 M471.90,9.90 L470.38,9.41 " stroke="#111" stroke-width="1.05" stroke-linecap="round" fill="none"/>
<circle cx="471.90" cy="9.90" r="0.80" fill="#111"/>
<text x="409.00" y="95.00" font-size="9.0" text-anchor="middle" font-weight="normal" fill="#1e1e1e" transform="rotate(-90 409.00 95.00)" textLength="66.7" lengthAdjust="spacingAndGlyphs" xml:space="preserve">% IFN-γ+ of CD8+</text>
<text x="459.70" y="163.40" font-size="8.3" text-anchor="end" font-weight="normal" fill="#1e1e1e" transform="rotate(-45 459.70 163.40)" xml:space="preserve">IgG  treated</text>
<text x="487.90" y="163.70" font-size="8.4" text-anchor="end" font-weight="normal" fill="#1e1e1e" transform="rotate(-45 487.90 163.70)" xml:space="preserve">Agonistic a-TIGIT Ab (1G9)</text>
<text x="516.90" y="159.20" font-size="8.5" text-anchor="end" font-weight="normal" fill="#1e1e1e" transform="rotate(-45 516.90 159.20)" xml:space="preserve">Naive</text>
<text x="579.90" y="150.09" font-size="8.7" text-anchor="end" font-weight="normal" fill="#1e1e1e" xml:space="preserve">0</text>
<text x="579.90" y="114.57" font-size="8.7" text-anchor="end" font-weight="normal" fill="#1e1e1e" xml:space="preserve">10</text>
<text x="579.90" y="79.05" font-size="8.7" text-anchor="end" font-weight="normal" fill="#1e1e1e" xml:space="preserve">20</text>
<text x="579.90" y="43.53" font-size="8.7" text-anchor="end" font-weight="normal" fill="#1e1e1e" xml:space="preserve">30</text>
<rect x="597.55" y="91.50" width="19.30" height="55.50" fill="#fff" stroke="#1a1a1a" stroke-width="1.5"/>
<rect x="626.55" y="92.60" width="19.30" height="54.40" fill="#9a9a9a" stroke="#1a1a1a" stroke-width="1.5"/>
<rect x="655.20" y="142.70" width="19.60" height="4.30" fill="#fff" stroke="#bdbdbd" stroke-width="1.4"/>
<circle cx="606.80" cy="52.60" r="2.15" fill="#1a1a1a"/>
<circle cx="606.80" cy="77.90" r="2.15" fill="#1a1a1a"/>
<circle cx="606.80" cy="94.20" r="2.15" fill="#1a1a1a"/>
<circle cx="606.80" cy="140.30" r="2.15" fill="#1a1a1a"/>
<circle cx="635.90" cy="77.10" r="2.1" fill="#fff" stroke="#1a1a1a" stroke-width="1.2"/>
<circle cx="635.90" cy="88.50" r="2.1" fill="#fff" stroke="#1a1a1a" stroke-width="1.2"/>
<circle cx="635.90" cy="95.30" r="2.1" fill="#fff" stroke="#1a1a1a" stroke-width="1.2"/>
<circle cx="639.30" cy="98.30" r="2.1" fill="#fff" stroke="#1a1a1a" stroke-width="1.2"/>
<circle cx="632.60" cy="103.30" r="2.1" fill="#fff" stroke="#1a1a1a" stroke-width="1.2"/>
<path d="M663.00,145.34 L667.00,145.34 L665.00,141.86 Z" fill="#1a1a1a"/>
<line x1="607.40" y1="14.40" x2="635.40" y2="14.40" stroke="#333" stroke-width="1.1"/>
<line x1="607.40" y1="11.60" x2="607.40" y2="17.20" stroke="#333" stroke-width="1.1"/>
<line x1="635.40" y1="11.60" x2="635.40" y2="17.20" stroke="#333" stroke-width="1.1"/>
<text x="620.40" y="11.40" font-size="7.6" text-anchor="middle" font-weight="normal" fill="#1e1e1e" xml:space="preserve">ns</text>
<text x="560.70" y="93.80" font-size="9.0" text-anchor="middle" font-weight="normal" fill="#1e1e1e" transform="rotate(-90 560.70 93.80)" textLength="67.7" lengthAdjust="spacingAndGlyphs" xml:space="preserve">% IFN-γ+ of CD4+</text>
<text x="610.50" y="163.40" font-size="8.3" text-anchor="end" font-weight="normal" fill="#1e1e1e" transform="rotate(-45 610.50 163.40)" xml:space="preserve">IgG  treated</text>
<text x="638.70" y="163.70" font-size="8.4" text-anchor="end" font-weight="normal" fill="#1e1e1e" transform="rotate(-45 638.70 163.70)" xml:space="preserve">Agonistic a-TIGIT Ab (1G9)</text>
<text x="667.60" y="159.20" font-size="8.5" text-anchor="end" font-weight="normal" fill="#1e1e1e" transform="rotate(-45 667.60 159.20)" xml:space="preserve">Naive</text>
<text x="-0.40" y="267.80" font-size="14.2" text-anchor="start" font-weight="bold" fill="#000" xml:space="preserve">d</text>
<text x="29.90" y="398.49" font-size="8.7" text-anchor="end" font-weight="normal" fill="#1e1e1e" xml:space="preserve">0</text>
<text x="29.90" y="377.24" font-size="8.7" text-anchor="end" font-weight="normal" fill="#1e1e1e" xml:space="preserve">10</text>
<text x="29.90" y="355.99" font-size="8.7" text-anchor="end" font-weight="normal" fill="#1e1e1e" xml:space="preserve">20</text>
<text x="29.90" y="334.74" font-size="8.7" text-anchor="end" font-weight="normal" fill="#1e1e1e" xml:space="preserve">30</text>
<text x="29.90" y="313.49" font-size="8.7" text-anchor="end" font-weight="normal" fill="#1e1e1e" xml:space="preserve">40</text>
<text x="29.90" y="292.24" font-size="8.7" text-anchor="end" font-weight="normal" fill="#1e1e1e" xml:space="preserve">50</text>
<rect x="47.20" y="381.60" width="19.40" height="13.80" fill="#fff" stroke="#1a1a1a" stroke-width="1.5"/>
<rect x="76.25" y="333.40" width="19.50" height="62.00" fill="#9a9a9a" stroke="#1a1a1a" stroke-width="1.5"/>
<line x1="105.50" y1="394.60" x2="124.50" y2="394.60" stroke="#c4c4c4" stroke-width="1.0"/>
<circle cx="57.00" cy="365.60" r="2.15" fill="#1a1a1a"/>
<circle cx="53.50" cy="382.00" r="2.15" fill="#1a1a1a"/>
<circle cx="60.10" cy="384.40" r="2.15" fill="#1a1a1a"/>
<circle cx="57.00" cy="395.00" r="2.15" fill="#1a1a1a"/>
<circle cx="85.80" cy="313.50" r="2.1" fill="#fff" stroke="#1a1a1a" stroke-width="1.2"/>
<circle cx="82.30" cy="330.90" r="2.1" fill="#fff" stroke="#1a1a1a" stroke-width="1.2"/>
<circle cx="92.40" cy="334.80" r="2.1" fill="#fff" stroke="#1a1a1a" stroke-width="1.2"/>
<circle cx="88.80" cy="341.30" r="2.1" fill="#fff" stroke="#1a1a1a" stroke-width="1.2"/>
<circle cx="82.30" cy="347.50" r="2.1" fill="#fff" stroke="#1a1a1a" stroke-width="1.2"/>
<circle cx="114.50" cy="395.20" r="1.6" fill="#1a1a1a"/>
<line x1="54.70" y1="277.50" x2="83.00" y2="277.50" stroke="#333" stroke-width="1.1"/>
<line x1="54.70" y1="274.70" x2="54.70" y2="280.30" stroke="#333" stroke-width="1.1"/>
<line x1="83.00" y1="274.70" x2="83.00" y2="280.30" stroke="#333" stroke-width="1.1"/>
<path d="M66.70,270.50 L66.70,269.30 M66.70,270.50 L67.84,270.13 M66.70,270.50 L67.41,271.47 M66.70,270.50 L65.99,271.47 M66.70,270.50 L65.56,270.13 " stroke="#111" stroke-width="1.05" stroke-linecap="round" fill="none"/>
<circle cx="66.70" cy="270.50" r="0.60" fill="#111"/>
<path d="M71.10,270.50 L71.10,269.30 M71.10,270.50 L72.24,270.13 M71.10,270.50 L71.81,271.47 M71.10,270.50 L70.39,271.47 M71.10,270.50 L69.96,270.13 " stroke="#111" stroke-width="1.05" stroke-linecap="round" fill="none"/>
<circle cx="71.10" cy="270.50" r="0.60" fill="#111"/>
<text x="9.90" y="342.40" font-size="9.0" text-anchor="middle" font-weight="normal" fill="#1e1e1e" transform="rotate(-90 9.90 342.40)" textLength="73.7" lengthAdjust="spacingAndGlyphs" xml:space="preserve">% Thy1.1+ of CD8+</text>
<text x="60.20" y="410.60" font-size="8.3" text-anchor="end" font-weight="normal" fill="#1e1e1e" transform="rotate(-45 60.20 410.60)" xml:space="preserve">IgG  treated</text>
<text x="88.30" y="411.60" font-size="8.5" text-anchor="end" font-weight="normal" fill="#1e1e1e" transform="rotate(-45 88.30 411.60)" xml:space="preserve">Agonistic a-TIGIT Ab (1G9)</text>
<text x="118.10" y="407.80" font-size="8.5" text-anchor="end" font-weight="normal" fill="#1e1e1e" transform="rotate(-45 118.10 407.80)" xml:space="preserve">Naive</text>
<text x="188.60" y="398.49" font-size="8.7" text-anchor="end" font-weight="normal" fill="#1e1e1e" xml:space="preserve">0</text>
<text x="188.60" y="362.99" font-size="8.7" text-anchor="end" font-weight="normal" fill="#1e1e1e" xml:space="preserve">10</text>
<text x="188.60" y="327.49" font-size="8.7" text-anchor="end" font-weight="normal" fill="#1e1e1e" xml:space="preserve">20</text>
<text x="188.60" y="291.99" font-size="8.7" text-anchor="end" font-weight="normal" fill="#1e1e1e" xml:space="preserve">30</text>
<rect x="206.30" y="363.90" width="19.40" height="31.50" fill="#fff" stroke="#1a1a1a" stroke-width="1.5"/>
<rect x="235.10" y="312.00" width="19.40" height="83.40" fill="#9a9a9a" stroke="#1a1a1a" stroke-width="1.5"/>
<rect x="263.70" y="392.80" width="19.60" height="2.60" fill="#fff" stroke="#bdbdbd" stroke-width="1.4"/>
<circle cx="215.90" cy="309.70" r="2.15" fill="#1a1a1a"/>
<circle cx="215.90" cy="374.80" r="2.15" fill="#1a1a1a"/>
<circle cx="215.90" cy="381.70" r="2.15" fill="#1a1a1a"/>
<circle cx="215.90" cy="390.50" r="2.15" fill="#1a1a1a"/>
<circle cx="244.70" cy="295.30" r="2.1" fill="#fff" stroke="#1a1a1a" stroke-width="1.2"/>
<circle cx="238.20" cy="310.90" r="2.1" fill="#fff" stroke="#1a1a1a" stroke-width="1.2"/>
<circle cx="244.70" cy="313.00" r="2.1" fill="#fff" stroke="#1a1a1a" stroke-width="1.2"/>
<circle cx="251.20" cy="307.40" r="2.1" fill="#fff" stroke="#1a1a1a" stroke-width="1.2"/>
<circle cx="244.70" cy="333.60" r="2.1" fill="#fff" stroke="#1a1a1a" stroke-width="1.2"/>
<path d="M271.50,395.14 L275.50,395.14 L273.50,391.66 Z" fill="#1a1a1a"/>
<line x1="216.50" y1="277.00" x2="244.60" y2="277.00" stroke="#9a9a9a" stroke-width="1.5"/>
<line x1="216.50" y1="274.20" x2="216.50" y2="279.80" stroke="#333" stroke-width="1.1"/>
<line x1="244.60" y1="274.20" x2="244.60" y2="279.80" stroke="#333" stroke-width="1.1"/>
<path d="M231.30,270.10 L231.30,268.50 M231.30,270.10 L232.82,269.61 M231.30,270.10 L232.24,271.39 M231.30,270.10 L230.36,271.39 M231.30,270.10 L229.78,269.61 " stroke="#111" stroke-width="1.05" stroke-linecap="round" fill="none"/>
<circle cx="231.30" cy="270.10" r="0.80" fill="#111"/>
<text x="170.00" y="342.50" font-size="9.0" text-anchor="middle" font-weight="normal" fill="#1e1e1e" transform="rotate(-90 170.00 342.50)" textLength="75.0" lengthAdjust="spacingAndGlyphs" xml:space="preserve">% Thy1.1+ of CD4+</text>
<text x="219.20" y="410.40" font-size="8.3" text-anchor="end" font-weight="normal" fill="#1e1e1e" transform="rotate(-45 219.20 410.40)" xml:space="preserve">IgG  treated</text>
<text x="246.90" y="411.60" font-size="8.5" text-anchor="end" font-weight="normal" fill="#1e1e1e" transform="rotate(-45 246.90 411.60)" xml:space="preserve">Agonistic a-TIGIT Ab (1G9)</text>
<text x="277.20" y="407.80" font-size="8.5" text-anchor="end" font-weight="normal" fill="#1e1e1e" transform="rotate(-45 277.20 407.80)" xml:space="preserve">Naive</text>
<text x="312.30" y="268.20" font-size="14.2" text-anchor="start" font-weight="bold" fill="#000" xml:space="preserve">e</text>
<text x="357.60" y="398.58" font-size="8.4" text-anchor="end" font-weight="normal" fill="#1e1e1e" xml:space="preserve">0</text>
<text x="353.70" y="377.00" font-size="8.4" text-anchor="end" fill="#1e1e1e" xml:space="preserve">1 × 10</text>
<text x="353.80" y="373.90" font-size="5.8" text-anchor="start" fill="#808080">6</text>
<text x="353.70" y="355.42" font-size="8.4" text-anchor="end" fill="#1e1e1e" xml:space="preserve">2 × 10</text>
<text x="353.80" y="352.32" font-size="5.8" text-anchor="start" fill="#808080">6</text>
<text x="353.70" y="333.84" font-size="8.4" text-anchor="end" fill="#1e1e1e" xml:space="preserve">3 × 10</text>
<text x="353.80" y="330.74" font-size="5.8" text-anchor="start" fill="#808080">6</text>
<text x="353.70" y="312.26" font-size="8.4" text-anchor="end" fill="#1e1e1e" xml:space="preserve">4 × 10</text>
<text x="353.80" y="309.16" font-size="5.8" text-anchor="start" fill="#808080">6</text>
<text x="353.70" y="290.68" font-size="8.4" text-anchor="end" fill="#1e1e1e" xml:space="preserve">5 × 10</text>
<text x="353.80" y="287.58" font-size="5.8" text-anchor="start" fill="#808080">6</text>
<rect x="375.30" y="392.30" width="20.00" height="3.30" fill="#fff" stroke="#1a1a1a" stroke-width="1.5"/>
<rect x="404.55" y="354.50" width="19.90" height="41.10" fill="#a9abaf" stroke="#1a1a1a" stroke-width="1.5"/>
<circle cx="385.10" cy="384.80" r="2.15" fill="#1a1a1a"/>
<circle cx="377.60" cy="394.30" r="2.15" fill="#1a1a1a"/>
<circle cx="385.10" cy="395.00" r="2.15" fill="#1a1a1a"/>
<circle cx="391.40" cy="394.80" r="2.15" fill="#1a1a1a"/>
<circle cx="414.30" cy="313.20" r="2.1" fill="#fff" stroke="#1a1a1a" stroke-width="1.2"/>
<circle cx="411.00" cy="359.30" r="2.1" fill="#fff" stroke="#1a1a1a" stroke-width="1.2"/>
<circle cx="417.50" cy="360.20" r="2.1" fill="#fff" stroke="#1a1a1a" stroke-width="1.2"/>
<circle cx="417.50" cy="367.60" r="2.1" fill="#fff" stroke="#1a1a1a" stroke-width="1.2"/>
<circle cx="411.00" cy="372.70" r="2.1" fill="#fff" stroke="#1a1a1a" stroke-width="1.2"/>
<circle cx="443.40" cy="395.60" r="1.6" fill="#1a1a1a"/>
<line x1="385.40" y1="273.80" x2="413.40" y2="273.80" stroke="#8a8a8a" stroke-width="1.4"/>
<line x1="385.40" y1="271.00" x2="385.40" y2="276.60" stroke="#333" stroke-width="1.1"/>
<line x1="413.40" y1="271.00" x2="413.40" y2="276.60" stroke="#333" stroke-width="1.1"/>
<path d="M400.00,268.70 L400.00,267.10 M400.00,268.70 L401.52,268.21 M400.00,268.70 L400.94,269.99 M400.00,268.70 L399.06,269.99 M400.00,268.70 L398.48,268.21 " stroke="#111" stroke-width="1.05" stroke-linecap="round" fill="none"/>
<circle cx="400.00" cy="268.70" r="0.80" fill="#111"/>
<text x="319.40" y="342.10" font-size="9.0" text-anchor="middle" font-weight="normal" fill="#1e1e1e" transform="rotate(-90 319.40 342.10)" textLength="60.7" lengthAdjust="spacingAndGlyphs" xml:space="preserve"># Thy1.1+ CD8+</text>
<text x="389.10" y="411.00" font-size="8.4" text-anchor="end" font-weight="normal" fill="#1e1e1e" transform="rotate(-45 389.10 411.00)" xml:space="preserve">IgG  treated</text>
<text x="417.10" y="414.10" font-size="8.4" text-anchor="end" font-weight="normal" fill="#1e1e1e" transform="rotate(-45 417.10 414.10)" xml:space="preserve">Agonistic a-TIGIT Ab (1G9)</text>
<text x="446.60" y="408.50" font-size="8.4" text-anchor="end" font-weight="normal" fill="#1e1e1e" transform="rotate(-45 446.60 408.50)" xml:space="preserve">Naive</text>
<text x="534.40" y="398.58" font-size="8.4" text-anchor="end" font-weight="normal" fill="#1e1e1e" xml:space="preserve">0</text>
<text x="530.50" y="362.63" font-size="8.4" text-anchor="end" fill="#1e1e1e" xml:space="preserve">1 × 10</text>
<text x="530.60" y="359.53" font-size="5.8" text-anchor="start" fill="#808080">6</text>
<text x="530.50" y="326.68" font-size="8.4" text-anchor="end" fill="#1e1e1e" xml:space="preserve">2 × 10</text>
<text x="530.60" y="323.58" font-size="5.8" text-anchor="start" fill="#808080">6</text>
<text x="530.50" y="290.73" font-size="8.4" text-anchor="end" fill="#1e1e1e" xml:space="preserve">3 × 10</text>
<text x="530.60" y="287.63" font-size="5.8" text-anchor="start" fill="#808080">6</text>
<rect x="551.50" y="388.40" width="20.00" height="7.20" fill="#fff" stroke="#1a1a1a" stroke-width="1.5"/>
<rect x="580.65" y="374.50" width="19.90" height="21.10" fill="#a9abaf" stroke="#1a1a1a" stroke-width="1.5"/>
<line x1="561.30" y1="375.70" x2="561.30" y2="395.60" stroke="#1a1a1a" stroke-width="1.3"/>
<circle cx="561.30" cy="369.30" r="2.15" fill="#1a1a1a"/>
<circle cx="554.80" cy="394.90" r="2.15" fill="#1a1a1a"/>
<circle cx="561.30" cy="394.90" r="2.15" fill="#1a1a1a"/>
<circle cx="568.00" cy="394.90" r="2.15" fill="#1a1a1a"/>
<circle cx="590.50" cy="359.50" r="2.0" fill="#fff" stroke="#1a1a1a" stroke-width="1.2"/>
<circle cx="590.50" cy="367.50" r="2.0" fill="#fff" stroke="#1a1a1a" stroke-width="1.2"/>
<circle cx="583.90" cy="378.50" r="2.0" fill="#fff" stroke="#1a1a1a" stroke-width="1.2"/>
<circle cx="590.50" cy="384.20" r="2.0" fill="#fff" stroke="#1a1a1a" stroke-width="1.2"/>
<circle cx="597.00" cy="382.60" r="2.0" fill="#fff" stroke="#1a1a1a" stroke-width="1.2"/>
<circle cx="619.70" cy="395.60" r="1.6" fill="#1a1a1a"/>
<line x1="563.40" y1="272.70" x2="591.40" y2="272.70" stroke="#8a8a8a" stroke-width="1.4"/>
<line x1="563.40" y1="269.90" x2="563.40" y2="275.50" stroke="#333" stroke-width="1.1"/>
<line x1="591.40" y1="269.90" x2="591.40" y2="275.50" stroke="#333" stroke-width="1.1"/>
<text x="577.50" y="268.80" font-size="7.4" text-anchor="middle" font-weight="normal" fill="#1e1e1e" xml:space="preserve">ns</text>
<text x="495.80" y="342.10" font-size="9.0" text-anchor="middle" font-weight="normal" fill="#1e1e1e" transform="rotate(-90 495.80 342.10)" textLength="60.7" lengthAdjust="spacingAndGlyphs" xml:space="preserve"># Thy1.1+ CD4+</text>
<text x="565.30" y="411.00" font-size="8.4" text-anchor="end" font-weight="normal" fill="#1e1e1e" transform="rotate(-45 565.30 411.00)" xml:space="preserve">IgG  treated</text>
<text x="593.30" y="414.10" font-size="8.4" text-anchor="end" font-weight="normal" fill="#1e1e1e" transform="rotate(-45 593.30 414.10)" xml:space="preserve">Agonistic a-TIGIT Ab (1G9)</text>
<text x="622.80" y="408.50" font-size="8.4" text-anchor="end" font-weight="normal" fill="#1e1e1e" transform="rotate(-45 622.80 408.50)" xml:space="preserve">Naive</text>
<text x="-0.60" y="511.80" font-size="14.2" text-anchor="start" font-weight="bold" fill="#000" xml:space="preserve">f</text>
<text x="31.70" y="640.39" font-size="8.7" text-anchor="end" font-weight="normal" fill="#1e1e1e" xml:space="preserve">0</text>
<text x="31.70" y="613.66" font-size="8.7" text-anchor="end" font-weight="normal" fill="#1e1e1e" xml:space="preserve">50</text>
<text x="31.70" y="586.94" font-size="8.7" text-anchor="end" font-weight="normal" fill="#1e1e1e" xml:space="preserve">100</text>
<text x="31.70" y="560.21" font-size="8.7" text-anchor="end" font-weight="normal" fill="#1e1e1e" xml:space="preserve">150</text>
<text x="31.70" y="533.49" font-size="8.7" text-anchor="end" font-weight="normal" fill="#1e1e1e" xml:space="preserve">200</text>
<rect x="50.5" y="562.2" width="20.7" height="73.60" fill="#fff" stroke="#1a1a1a" stroke-width="1.5"/>
<line x1="50.50" y1="627.40" x2="71.20" y2="627.40" stroke="#1a1a1a" stroke-width="1.4"/>
<line x1="60.80" y1="542.40" x2="60.80" y2="562.20" stroke="#1a1a1a" stroke-width="1.4"/>
<line x1="55.00" y1="542.40" x2="66.60" y2="542.40" stroke="#1a1a1a" stroke-width="1.4"/>
<line x1="50.50" y1="636.20" x2="71.20" y2="636.20" stroke="#1a1a1a" stroke-width="1.6"/>
<line x1="81.50" y1="636.40" x2="102.60" y2="636.40" stroke="#7a7a7a" stroke-width="1.2"/>
<line x1="60.40" y1="517.30" x2="89.00" y2="517.30" stroke="#333" stroke-width="1.1"/>
<line x1="60.40" y1="514.50" x2="60.40" y2="520.10" stroke="#333" stroke-width="1.1"/>
<line x1="89.00" y1="514.50" x2="89.00" y2="520.10" stroke="#333" stroke-width="1.1"/>
<path d="M75.50,511.40 L75.50,509.80 M75.50,511.40 L77.02,510.91 M75.50,511.40 L76.44,512.69 M75.50,511.40 L74.56,512.69 M75.50,511.40 L73.98,510.91 " stroke="#111" stroke-width="1.05" stroke-linecap="round" fill="none"/>
<circle cx="75.50" cy="511.40" r="0.80" fill="#111"/>
<text x="7.40" y="583.70" font-size="8.8" text-anchor="middle" font-weight="normal" fill="#1e1e1e" transform="rotate(-90 7.40 583.70)" textLength="58.8" lengthAdjust="spacingAndGlyphs" xml:space="preserve">IFN-γ/IL-10 ratio</text>
<text x="63.70" y="652.10" font-size="8.5" text-anchor="end" font-weight="normal" fill="#1e1e1e" transform="rotate(-45 63.70 652.10)" xml:space="preserve">IgG  treated</text>
<text x="95.50" y="654.10" font-size="8.5" text-anchor="end" font-weight="normal" fill="#1e1e1e" transform="rotate(-45 95.50 654.10)" xml:space="preserve">Agonistic a-TIGIT Ab (1G9)</text>
<text x="166.10" y="640.39" font-size="8.7" text-anchor="end" font-weight="normal" fill="#1e1e1e" xml:space="preserve">0</text>
<text x="166.10" y="613.41" font-size="8.7" text-anchor="end" font-weight="normal" fill="#1e1e1e" xml:space="preserve">5</text>
<text x="166.10" y="586.44" font-size="8.7" text-anchor="end" font-weight="normal" fill="#1e1e1e" xml:space="preserve">10</text>
<text x="166.10" y="559.46" font-size="8.7" text-anchor="end" font-weight="normal" fill="#1e1e1e" xml:space="preserve">15</text>
<text x="166.10" y="532.49" font-size="8.7" text-anchor="end" font-weight="normal" fill="#1e1e1e" xml:space="preserve">20</text>
<rect x="184.8" y="573.2" width="21.2" height="62.10" fill="#fff" stroke="#1a1a1a" stroke-width="1.5"/>
<line x1="184.80" y1="630.80" x2="206.00" y2="630.80" stroke="#1a1a1a" stroke-width="1.4"/>
<line x1="195.40" y1="555.20" x2="195.40" y2="573.20" stroke="#1a1a1a" stroke-width="1.4"/>
<line x1="190.20" y1="555.20" x2="200.70" y2="555.20" stroke="#1a1a1a" stroke-width="1.4"/>
<line x1="184.80" y1="636.00" x2="206.00" y2="636.00" stroke="#1a1a1a" stroke-width="1.6"/>
<line x1="216.50" y1="636.40" x2="237.30" y2="636.40" stroke="#7a7a7a" stroke-width="1.2"/>
<line x1="197.00" y1="520.50" x2="225.40" y2="520.50" stroke="#7a7a7a" stroke-width="1.3"/>
<line x1="197.00" y1="517.70" x2="197.00" y2="523.30" stroke="#333" stroke-width="1.1"/>
<line x1="225.40" y1="517.70" x2="225.40" y2="523.30" stroke="#333" stroke-width="1.1"/>
<path d="M211.90,514.70 L211.90,513.10 M211.90,514.70 L213.42,514.21 M211.90,514.70 L212.84,515.99 M211.90,514.70 L210.96,515.99 M211.90,514.70 L210.38,514.21 " stroke="#111" stroke-width="1.05" stroke-linecap="round" fill="none"/>
<circle cx="211.90" cy="514.70" r="0.80" fill="#111"/>
<text x="148.90" y="583.00" font-size="8.8" text-anchor="middle" font-weight="normal" fill="#1e1e1e" transform="rotate(-90 148.90 583.00)" textLength="65.1" lengthAdjust="spacingAndGlyphs" xml:space="preserve">TNF-α/IL-10 ratio</text>
<text x="197.80" y="652.20" font-size="8.5" text-anchor="end" font-weight="normal" fill="#1e1e1e" transform="rotate(-45 197.80 652.20)" xml:space="preserve">IgG  treated</text>
<text x="228.40" y="654.40" font-size="8.5" text-anchor="end" font-weight="normal" fill="#1e1e1e" transform="rotate(-45 228.40 654.40)" xml:space="preserve">Agonistic a-TIGIT Ab (1G9)</text>
<text x="266.50" y="511.50" font-size="14.2" text-anchor="start" font-weight="bold" fill="#000" xml:space="preserve">g</text>
<text x="303.20" y="640.39" font-size="8.7" text-anchor="end" font-weight="normal" fill="#1e1e1e" xml:space="preserve">0</text>
<text x="303.20" y="619.02" font-size="8.7" text-anchor="end" font-weight="normal" fill="#1e1e1e" xml:space="preserve">200</text>
<text x="303.20" y="597.65" font-size="8.7" text-anchor="end" font-weight="normal" fill="#1e1e1e" xml:space="preserve">400</text>
<text x="303.20" y="576.28" font-size="8.7" text-anchor="end" font-weight="normal" fill="#1e1e1e" xml:space="preserve">600</text>
<text x="303.20" y="554.91" font-size="8.7" text-anchor="end" font-weight="normal" fill="#1e1e1e" xml:space="preserve">800</text>
<text x="303.20" y="533.54" font-size="8.7" text-anchor="end" font-weight="normal" fill="#1e1e1e" xml:space="preserve">1000</text>
<rect x="316.25" y="616.00" width="23.10" height="21.30" fill="#fff" stroke="#1a1a1a" stroke-width="1.5"/>
<rect x="349.35" y="593.60" width="22.50" height="43.70" fill="#a9abaf" stroke="#1a1a1a" stroke-width="1.5"/>
<line x1="327.70" y1="587.50" x2="327.70" y2="637.30" stroke="#1a1a1a" stroke-width="1.3"/>
<circle cx="324.40" cy="614.30" r="2.1" fill="#1a1a1a"/>
<circle cx="331.10" cy="619.60" r="2.1" fill="#1a1a1a"/>
<circle cx="322.00" cy="626.80" r="2.1" fill="#1a1a1a"/>
<circle cx="324.80" cy="626.80" r="2.1" fill="#1a1a1a"/>
<circle cx="327.70" cy="626.80" r="2.1" fill="#1a1a1a"/>
<circle cx="330.60" cy="626.80" r="2.1" fill="#1a1a1a"/>
<circle cx="333.50" cy="626.80" r="2.1" fill="#1a1a1a"/>
<circle cx="326.30" cy="630.20" r="2.1" fill="#1a1a1a"/>
<circle cx="329.20" cy="630.20" r="2.1" fill="#1a1a1a"/>
<circle cx="328.00" cy="541.20" r="2.0" fill="#1a1a1a"/>
<circle cx="357.40" cy="565.80" r="2.1" fill="#fff" stroke="#1a1a1a" stroke-width="1.2"/>
<circle cx="363.90" cy="562.90" r="2.1" fill="#fff" stroke="#1a1a1a" stroke-width="1.2"/>
<circle cx="357.40" cy="579.80" r="2.1" fill="#fff" stroke="#1a1a1a" stroke-width="1.2"/>
<circle cx="363.90" cy="581.00" r="2.1" fill="#fff" stroke="#1a1a1a" stroke-width="1.2"/>
<circle cx="363.90" cy="600.50" r="2.1" fill="#fff" stroke="#1a1a1a" stroke-width="1.2"/>
<circle cx="357.40" cy="604.70" r="2.1" fill="#fff" stroke="#1a1a1a" stroke-width="1.2"/>
<circle cx="360.60" cy="611.20" r="2.1" fill="#fff" stroke="#1a1a1a" stroke-width="1.2"/>
<circle cx="363.90" cy="617.00" r="2.1" fill="#fff" stroke="#1a1a1a" stroke-width="1.2"/>
<circle cx="357.40" cy="621.50" r="2.1" fill="#fff" stroke="#1a1a1a" stroke-width="1.2"/>
<line x1="328.50" y1="524.50" x2="358.00" y2="524.50" stroke="#333" stroke-width="1.1"/>
<line x1="328.50" y1="521.70" x2="328.50" y2="527.30" stroke="#333" stroke-width="1.1"/>
<line x1="358.00" y1="521.70" x2="358.00" y2="527.30" stroke="#333" stroke-width="1.1"/>
<path d="M341.60,515.30 L341.60,514.05 M341.60,515.30 L342.79,514.91 M341.60,515.30 L342.33,516.31 M341.60,515.30 L340.87,516.31 M341.60,515.30 L340.41,514.91 " stroke="#111" stroke-width="1.05" stroke-linecap="round" fill="none"/>
<circle cx="341.60" cy="515.30" r="0.62" fill="#111"/>
<path d="M345.20,515.30 L345.20,514.05 M345.20,515.30 L346.39,514.91 M345.20,515.30 L345.93,516.31 M345.20,515.30 L344.47,516.31 M345.20,515.30 L344.01,514.91 " stroke="#111" stroke-width="1.05" stroke-linecap="round" fill="none"/>
<circle cx="345.20" cy="515.30" r="0.62" fill="#111"/>
<text x="273.80" y="583.40" font-size="8.8" text-anchor="middle" font-weight="normal" fill="#1e1e1e" transform="rotate(-90 273.80 583.40)" textLength="49.6" lengthAdjust="spacingAndGlyphs" xml:space="preserve">IL-10 (pg/ml)</text>
<text x="331.00" y="652.20" font-size="8.5" text-anchor="end" font-weight="normal" fill="#1e1e1e" transform="rotate(-45 331.00 652.20)" xml:space="preserve">IgG  treated</text>
<text x="363.10" y="654.40" font-size="8.5" text-anchor="end" font-weight="normal" fill="#1e1e1e" transform="rotate(-45 363.10 654.40)" xml:space="preserve">Agonistic a-TIGIT Ab (1G9)</text>
<line x1="70.50" y1="140.40" x2="70.50" y2="152.30" stroke="#1a1a1a" stroke-width="1.3"/>
<line x1="66.15" y1="140.40" x2="74.85" y2="140.40" stroke="#1a1a1a" stroke-width="1.3"/>
<line x1="70.50" y1="152.30" x2="70.50" y2="152.30" stroke="#1a1a1a" stroke-width="1.3"/>
<line x1="93.40" y1="86.20" x2="93.40" y2="134.70" stroke="#1a1a1a" stroke-width="1.3"/>
<line x1="89.15" y1="86.20" x2="97.65" y2="86.20" stroke="#1a1a1a" stroke-width="1.3"/>
<line x1="89.70" y1="134.70" x2="97.10" y2="134.70" stroke="#1a1a1a" stroke-width="1.3"/>
<line x1="116.60" y1="115.30" x2="116.60" y2="141.90" stroke="#1a1a1a" stroke-width="1.3"/>
<line x1="112.80" y1="115.30" x2="120.40" y2="115.30" stroke="#1a1a1a" stroke-width="1.3"/>
<line x1="114.10" y1="141.90" x2="119.10" y2="141.90" stroke="#1a1a1a" stroke-width="1.3"/>
<line x1="139.50" y1="114.70" x2="139.50" y2="148.40" stroke="#1a1a1a" stroke-width="1.3"/>
<line x1="135.20" y1="114.70" x2="143.80" y2="114.70" stroke="#1a1a1a" stroke-width="1.3"/>
<line x1="136.00" y1="148.40" x2="143.00" y2="148.40" stroke="#1a1a1a" stroke-width="1.3"/>
<line x1="162.60" y1="102.60" x2="162.60" y2="147.50" stroke="#1a1a1a" stroke-width="1.3"/>
<line x1="158.30" y1="102.60" x2="166.90" y2="102.60" stroke="#1a1a1a" stroke-width="1.3"/>
<line x1="158.30" y1="147.50" x2="166.90" y2="147.50" stroke="#1a1a1a" stroke-width="1.3"/>
<line x1="456.60" y1="59.20" x2="456.60" y2="83.70" stroke="#1a1a1a" stroke-width="1.3"/>
<line x1="451.25" y1="59.20" x2="461.95" y2="59.20" stroke="#1a1a1a" stroke-width="1.3"/>
<line x1="451.25" y1="83.70" x2="461.95" y2="83.70" stroke="#1a1a1a" stroke-width="1.3"/>
<line x1="485.50" y1="88.10" x2="485.50" y2="99.80" stroke="#1a1a1a" stroke-width="1.3"/>
<line x1="480.35" y1="88.10" x2="490.65" y2="88.10" stroke="#1a1a1a" stroke-width="1.3"/>
<line x1="480.35" y1="99.80" x2="490.65" y2="99.80" stroke="#1a1a1a" stroke-width="1.3"/>
<line x1="607.00" y1="54.70" x2="607.00" y2="128.20" stroke="#1a1a1a" stroke-width="1.3"/>
<line x1="601.65" y1="54.70" x2="612.35" y2="54.70" stroke="#1a1a1a" stroke-width="1.3"/>
<line x1="601.65" y1="128.20" x2="612.35" y2="128.20" stroke="#1a1a1a" stroke-width="1.3"/>
<line x1="635.90" y1="82.40" x2="635.90" y2="102.10" stroke="#1a1a1a" stroke-width="1.3"/>
<line x1="630.60" y1="82.40" x2="641.20" y2="82.40" stroke="#1a1a1a" stroke-width="1.3"/>
<line x1="631.65" y1="102.10" x2="640.15" y2="102.10" stroke="#1a1a1a" stroke-width="1.3"/>
<line x1="57.00" y1="369.50" x2="57.00" y2="393.60" stroke="#1a1a1a" stroke-width="1.3"/>
<line x1="51.75" y1="369.50" x2="62.25" y2="369.50" stroke="#1a1a1a" stroke-width="1.3"/>
<line x1="51.75" y1="393.60" x2="62.25" y2="393.60" stroke="#1a1a1a" stroke-width="1.3"/>
<line x1="85.80" y1="320.70" x2="85.80" y2="346.50" stroke="#1a1a1a" stroke-width="1.3"/>
<line x1="80.55" y1="320.70" x2="91.05" y2="320.70" stroke="#1a1a1a" stroke-width="1.3"/>
<line x1="82.30" y1="346.50" x2="89.30" y2="346.50" stroke="#1a1a1a" stroke-width="1.3"/>
<line x1="215.60" y1="326.80" x2="215.60" y2="395.40" stroke="#1a1a1a" stroke-width="1.3"/>
<line x1="210.30" y1="326.80" x2="220.90" y2="326.80" stroke="#1a1a1a" stroke-width="1.3"/>
<line x1="210.30" y1="395.40" x2="220.90" y2="395.40" stroke="#1a1a1a" stroke-width="1.3"/>
<line x1="244.60" y1="298.00" x2="244.60" y2="325.90" stroke="#1a1a1a" stroke-width="1.3"/>
<line x1="239.45" y1="298.00" x2="249.75" y2="298.00" stroke="#1a1a1a" stroke-width="1.3"/>
<line x1="239.45" y1="325.90" x2="249.75" y2="325.90" stroke="#1a1a1a" stroke-width="1.3"/>
<line x1="385.30" y1="387.50" x2="385.30" y2="395.60" stroke="#1a1a1a" stroke-width="1.3"/>
<line x1="379.95" y1="387.50" x2="390.65" y2="387.50" stroke="#1a1a1a" stroke-width="1.3"/>
<line x1="379.95" y1="395.60" x2="390.65" y2="395.60" stroke="#1a1a1a" stroke-width="1.3"/>
<line x1="414.50" y1="330.80" x2="414.50" y2="378.00" stroke="#1a1a1a" stroke-width="1.3"/>
<line x1="409.25" y1="330.80" x2="419.75" y2="330.80" stroke="#1a1a1a" stroke-width="1.3"/>
<line x1="409.25" y1="378.00" x2="419.75" y2="378.00" stroke="#1a1a1a" stroke-width="1.3"/>
<line x1="556.05" y1="375.70" x2="566.55" y2="375.70" stroke="#1a1a1a" stroke-width="1.3"/>
<line x1="590.50" y1="363.80" x2="590.50" y2="385.20" stroke="#1a1a1a" stroke-width="1.3"/>
<line x1="585.25" y1="363.80" x2="595.75" y2="363.80" stroke="#1a1a1a" stroke-width="1.3"/>
<line x1="585.00" y1="385.20" x2="596.00" y2="385.20" stroke="#1a1a1a" stroke-width="1.3"/>
<line x1="321.95" y1="587.50" x2="333.45" y2="587.50" stroke="#1a1a1a" stroke-width="1.3"/>
<line x1="360.70" y1="571.90" x2="360.70" y2="615.30" stroke="#1a1a1a" stroke-width="1.3"/>
<line x1="354.90" y1="571.90" x2="366.50" y2="571.90" stroke="#1a1a1a" stroke-width="1.3"/>
<line x1="357.20" y1="615.30" x2="364.20" y2="615.30" stroke="#1a1a1a" stroke-width="1.3"/>
<line x1="59.00" y1="34.05" x2="59.00" y2="153.10" stroke="#1a1a1a" stroke-width="1.6"/>
<line x1="58.20" y1="152.30" x2="173.80" y2="152.30" stroke="#1a1a1a" stroke-width="1.6"/>
<line x1="54.70" y1="152.30" x2="59.00" y2="152.30" stroke="#1a1a1a" stroke-width="1.3"/>
<line x1="54.70" y1="128.78" x2="59.00" y2="128.78" stroke="#1a1a1a" stroke-width="1.3"/>
<line x1="54.70" y1="105.26" x2="59.00" y2="105.26" stroke="#1a1a1a" stroke-width="1.3"/>
<line x1="54.70" y1="81.74" x2="59.00" y2="81.74" stroke="#1a1a1a" stroke-width="1.3"/>
<line x1="54.70" y1="58.22" x2="59.00" y2="58.22" stroke="#1a1a1a" stroke-width="1.3"/>
<line x1="54.70" y1="34.70" x2="59.00" y2="34.70" stroke="#1a1a1a" stroke-width="1.3"/>
<line x1="70.50" y1="152.30" x2="70.50" y2="156.60" stroke="#1a1a1a" stroke-width="1.3"/>
<line x1="93.50" y1="152.30" x2="93.50" y2="156.60" stroke="#1a1a1a" stroke-width="1.3"/>
<line x1="116.50" y1="152.30" x2="116.50" y2="156.60" stroke="#1a1a1a" stroke-width="1.3"/>
<line x1="139.50" y1="152.30" x2="139.50" y2="156.60" stroke="#1a1a1a" stroke-width="1.3"/>
<line x1="162.50" y1="152.30" x2="162.50" y2="156.60" stroke="#1a1a1a" stroke-width="1.3"/>
<line x1="437.80" y1="39.75" x2="437.80" y2="147.80" stroke="#1a1a1a" stroke-width="1.6"/>
<line x1="437.00" y1="147.00" x2="534.30" y2="147.00" stroke="#1a1a1a" stroke-width="1.6"/>
<line x1="433.50" y1="147.00" x2="437.80" y2="147.00" stroke="#1a1a1a" stroke-width="1.3"/>
<line x1="433.50" y1="120.35" x2="437.80" y2="120.35" stroke="#1a1a1a" stroke-width="1.3"/>
<line x1="433.50" y1="93.70" x2="437.80" y2="93.70" stroke="#1a1a1a" stroke-width="1.3"/>
<line x1="433.50" y1="67.05" x2="437.80" y2="67.05" stroke="#1a1a1a" stroke-width="1.3"/>
<line x1="433.50" y1="40.40" x2="437.80" y2="40.40" stroke="#1a1a1a" stroke-width="1.3"/>
<line x1="456.80" y1="147.00" x2="456.80" y2="151.30" stroke="#1a1a1a" stroke-width="1.3"/>
<line x1="485.50" y1="147.00" x2="485.50" y2="151.30" stroke="#1a1a1a" stroke-width="1.3"/>
<line x1="514.30" y1="147.00" x2="514.30" y2="151.30" stroke="#1a1a1a" stroke-width="1.3"/>
<line x1="588.20" y1="39.79" x2="588.20" y2="147.80" stroke="#1a1a1a" stroke-width="1.6"/>
<line x1="587.40" y1="147.00" x2="685.00" y2="147.00" stroke="#1a1a1a" stroke-width="1.6"/>
<line x1="583.90" y1="147.00" x2="588.20" y2="147.00" stroke="#1a1a1a" stroke-width="1.3"/>
<line x1="583.90" y1="111.48" x2="588.20" y2="111.48" stroke="#1a1a1a" stroke-width="1.3"/>
<line x1="583.90" y1="75.96" x2="588.20" y2="75.96" stroke="#1a1a1a" stroke-width="1.3"/>
<line x1="583.90" y1="40.44" x2="588.20" y2="40.44" stroke="#1a1a1a" stroke-width="1.3"/>
<line x1="607.30" y1="147.00" x2="607.30" y2="151.30" stroke="#1a1a1a" stroke-width="1.3"/>
<line x1="636.20" y1="147.00" x2="636.20" y2="151.30" stroke="#1a1a1a" stroke-width="1.3"/>
<line x1="664.80" y1="147.00" x2="664.80" y2="151.30" stroke="#1a1a1a" stroke-width="1.3"/>
<line x1="38.00" y1="288.50" x2="38.00" y2="396.20" stroke="#1a1a1a" stroke-width="1.6"/>
<line x1="37.20" y1="395.40" x2="134.20" y2="395.40" stroke="#1a1a1a" stroke-width="1.6"/>
<line x1="33.70" y1="395.40" x2="38.00" y2="395.40" stroke="#1a1a1a" stroke-width="1.3"/>
<line x1="33.70" y1="374.15" x2="38.00" y2="374.15" stroke="#1a1a1a" stroke-width="1.3"/>
<line x1="33.70" y1="352.90" x2="38.00" y2="352.90" stroke="#1a1a1a" stroke-width="1.3"/>
<line x1="33.70" y1="331.65" x2="38.00" y2="331.65" stroke="#1a1a1a" stroke-width="1.3"/>
<line x1="33.70" y1="310.40" x2="38.00" y2="310.40" stroke="#1a1a1a" stroke-width="1.3"/>
<line x1="33.70" y1="289.15" x2="38.00" y2="289.15" stroke="#1a1a1a" stroke-width="1.3"/>
<line x1="57.00" y1="395.40" x2="57.00" y2="399.70" stroke="#1a1a1a" stroke-width="1.3"/>
<line x1="86.00" y1="395.40" x2="86.00" y2="399.70" stroke="#1a1a1a" stroke-width="1.3"/>
<line x1="114.50" y1="395.40" x2="114.50" y2="399.70" stroke="#1a1a1a" stroke-width="1.3"/>
<line x1="197.00" y1="288.25" x2="197.00" y2="396.20" stroke="#1a1a1a" stroke-width="1.6"/>
<line x1="196.20" y1="395.40" x2="293.20" y2="395.40" stroke="#1a1a1a" stroke-width="1.6"/>
<line x1="192.70" y1="395.40" x2="197.00" y2="395.40" stroke="#1a1a1a" stroke-width="1.3"/>
<line x1="192.70" y1="359.90" x2="197.00" y2="359.90" stroke="#1a1a1a" stroke-width="1.3"/>
<line x1="192.70" y1="324.40" x2="197.00" y2="324.40" stroke="#1a1a1a" stroke-width="1.3"/>
<line x1="192.70" y1="288.90" x2="197.00" y2="288.90" stroke="#1a1a1a" stroke-width="1.3"/>
<line x1="215.80" y1="395.40" x2="215.80" y2="399.70" stroke="#1a1a1a" stroke-width="1.3"/>
<line x1="244.50" y1="395.40" x2="244.50" y2="399.70" stroke="#1a1a1a" stroke-width="1.3"/>
<line x1="273.50" y1="395.40" x2="273.50" y2="399.70" stroke="#1a1a1a" stroke-width="1.3"/>
<line x1="365.80" y1="287.05" x2="365.80" y2="396.40" stroke="#1a1a1a" stroke-width="1.6"/>
<line x1="365.00" y1="395.60" x2="462.50" y2="395.60" stroke="#1a1a1a" stroke-width="1.6"/>
<line x1="361.50" y1="395.60" x2="365.80" y2="395.60" stroke="#1a1a1a" stroke-width="1.3"/>
<line x1="361.50" y1="374.02" x2="365.80" y2="374.02" stroke="#1a1a1a" stroke-width="1.3"/>
<line x1="361.50" y1="352.44" x2="365.80" y2="352.44" stroke="#1a1a1a" stroke-width="1.3"/>
<line x1="361.50" y1="330.86" x2="365.80" y2="330.86" stroke="#1a1a1a" stroke-width="1.3"/>
<line x1="361.50" y1="309.28" x2="365.80" y2="309.28" stroke="#1a1a1a" stroke-width="1.3"/>
<line x1="361.50" y1="287.70" x2="365.80" y2="287.70" stroke="#1a1a1a" stroke-width="1.3"/>
<line x1="385.40" y1="395.60" x2="385.40" y2="399.90" stroke="#1a1a1a" stroke-width="1.3"/>
<line x1="414.30" y1="395.60" x2="414.30" y2="399.90" stroke="#1a1a1a" stroke-width="1.3"/>
<line x1="443.40" y1="395.60" x2="443.40" y2="399.90" stroke="#1a1a1a" stroke-width="1.3"/>
<line x1="542.50" y1="287.10" x2="542.50" y2="396.40" stroke="#1a1a1a" stroke-width="1.6"/>
<line x1="541.70" y1="395.60" x2="638.30" y2="395.60" stroke="#1a1a1a" stroke-width="1.6"/>
<line x1="538.20" y1="395.60" x2="542.50" y2="395.60" stroke="#1a1a1a" stroke-width="1.3"/>
<line x1="538.20" y1="359.65" x2="542.50" y2="359.65" stroke="#1a1a1a" stroke-width="1.3"/>
<line x1="538.20" y1="323.70" x2="542.50" y2="323.70" stroke="#1a1a1a" stroke-width="1.3"/>
<line x1="538.20" y1="287.75" x2="542.50" y2="287.75" stroke="#1a1a1a" stroke-width="1.3"/>
<line x1="561.50" y1="395.60" x2="561.50" y2="399.90" stroke="#1a1a1a" stroke-width="1.3"/>
<line x1="590.50" y1="395.60" x2="590.50" y2="399.90" stroke="#1a1a1a" stroke-width="1.3"/>
<line x1="619.70" y1="395.60" x2="619.70" y2="399.90" stroke="#1a1a1a" stroke-width="1.3"/>
<line x1="40.40" y1="529.75" x2="40.40" y2="638.10" stroke="#1a1a1a" stroke-width="1.6"/>
<line x1="39.60" y1="637.30" x2="114.30" y2="637.30" stroke="#1a1a1a" stroke-width="1.6"/>
<line x1="36.10" y1="637.30" x2="40.40" y2="637.30" stroke="#1a1a1a" stroke-width="1.3"/>
<line x1="36.10" y1="610.57" x2="40.40" y2="610.57" stroke="#1a1a1a" stroke-width="1.3"/>
<line x1="36.10" y1="583.85" x2="40.40" y2="583.85" stroke="#1a1a1a" stroke-width="1.3"/>
<line x1="36.10" y1="557.12" x2="40.40" y2="557.12" stroke="#1a1a1a" stroke-width="1.3"/>
<line x1="36.10" y1="530.40" x2="40.40" y2="530.40" stroke="#1a1a1a" stroke-width="1.3"/>
<line x1="60.90" y1="637.30" x2="60.90" y2="641.60" stroke="#1a1a1a" stroke-width="1.3"/>
<line x1="92.00" y1="637.30" x2="92.00" y2="641.60" stroke="#1a1a1a" stroke-width="1.3"/>
<line x1="174.50" y1="528.75" x2="174.50" y2="638.10" stroke="#1a1a1a" stroke-width="1.6"/>
<line x1="173.70" y1="637.30" x2="248.20" y2="637.30" stroke="#1a1a1a" stroke-width="1.6"/>
<line x1="170.20" y1="637.30" x2="174.50" y2="637.30" stroke="#1a1a1a" stroke-width="1.3"/>
<line x1="170.20" y1="610.32" x2="174.50" y2="610.32" stroke="#1a1a1a" stroke-width="1.3"/>
<line x1="170.20" y1="583.35" x2="174.50" y2="583.35" stroke="#1a1a1a" stroke-width="1.3"/>
<line x1="170.20" y1="556.38" x2="174.50" y2="556.38" stroke="#1a1a1a" stroke-width="1.3"/>
<line x1="170.20" y1="529.40" x2="174.50" y2="529.40" stroke="#1a1a1a" stroke-width="1.3"/>
<line x1="195.00" y1="637.30" x2="195.00" y2="641.60" stroke="#1a1a1a" stroke-width="1.3"/>
<line x1="226.30" y1="637.30" x2="226.30" y2="641.60" stroke="#1a1a1a" stroke-width="1.3"/>
<line x1="311.60" y1="529.80" x2="311.60" y2="638.10" stroke="#1a1a1a" stroke-width="1.6"/>
<line x1="310.80" y1="637.30" x2="376.00" y2="637.30" stroke="#1a1a1a" stroke-width="1.6"/>
<line x1="307.30" y1="637.30" x2="311.60" y2="637.30" stroke="#1a1a1a" stroke-width="1.3"/>
<line x1="307.30" y1="615.93" x2="311.60" y2="615.93" stroke="#1a1a1a" stroke-width="1.3"/>
<line x1="307.30" y1="594.56" x2="311.60" y2="594.56" stroke="#1a1a1a" stroke-width="1.3"/>
<line x1="307.30" y1="573.19" x2="311.60" y2="573.19" stroke="#1a1a1a" stroke-width="1.3"/>
<line x1="307.30" y1="551.82" x2="311.60" y2="551.82" stroke="#1a1a1a" stroke-width="1.3"/>
<line x1="307.30" y1="530.45" x2="311.60" y2="530.45" stroke="#1a1a1a" stroke-width="1.3"/>
<line x1="327.90" y1="637.30" x2="327.90" y2="641.60" stroke="#1a1a1a" stroke-width="1.3"/>
<line x1="360.70" y1="637.30" x2="360.70" y2="641.60" stroke="#1a1a1a" stroke-width="1.3"/>
</svg>
</body></html>
